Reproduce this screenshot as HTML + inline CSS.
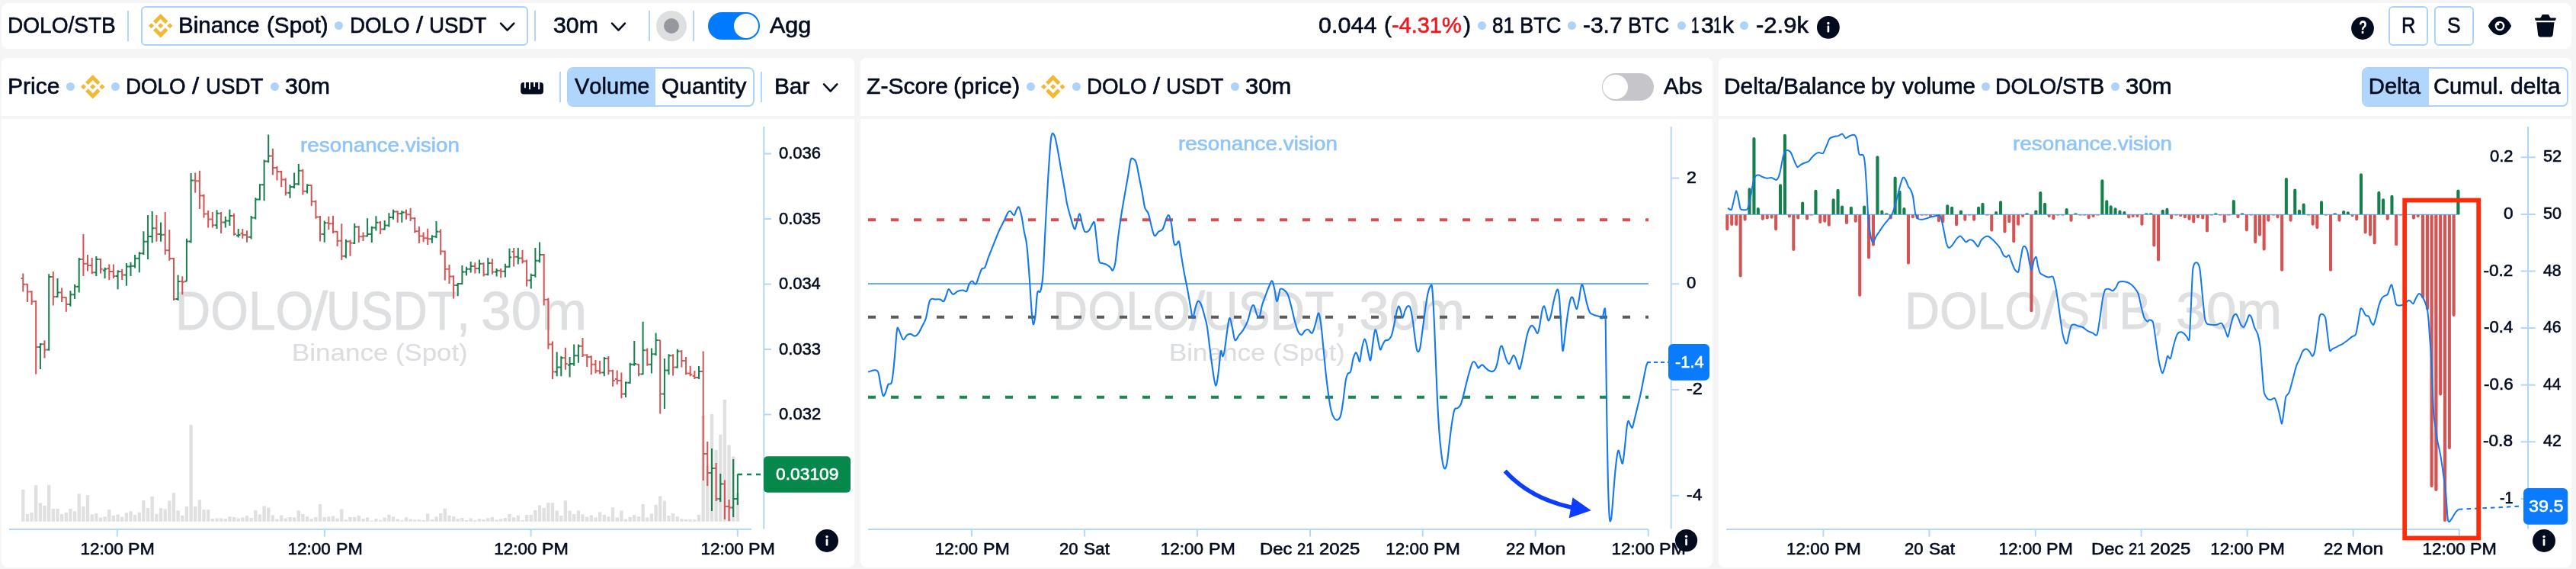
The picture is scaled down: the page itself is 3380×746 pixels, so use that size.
<!DOCTYPE html><html lang="en"><head><meta charset="utf-8"><title>DOLO/STB</title><style>
*{box-sizing:border-box;margin:0;padding:0}
html,body{width:3380px;height:746px;overflow:hidden}
body{background:#f5f5f5;font-family:"Liberation Sans",sans-serif;position:relative;font-kerning:none;color:#030b1f}
#root{position:absolute;left:0;top:0;width:3380px;height:746px;will-change:transform}
.t{position:absolute;white-space:pre;display:block;transform-origin:0 0}
.ab{position:absolute;display:block;overflow:visible}
.box{position:absolute;background:#fff}
.dot{position:absolute;display:block;border-radius:50%;background:#add3fb}
.vd{position:absolute;display:block;width:2px;background:#b3d7fb}
.ob{position:absolute;border:2px solid #add3fb;border-radius:6px;background:#fff}
.seg{position:absolute;border:2px solid #add3fb;border-radius:8px;background:#fff;overflow:hidden}
.seg b{position:absolute;left:-2px;top:-2px;bottom:-2px;background:#b1d6fd;display:block}
</style></head><body><div id="root">
<div class="box" style="left:2px;top:4px;width:3372px;height:60px;border-radius:9px"></div>
<span class="t" style="left:9.60px;top:18.98px;font-size:29.2px;line-height:29.2px;color:#030b1f;transform:scaleX(0.9609);-webkit-text-stroke:0.6px #030b1f;">DOLO/STB</span>
<i class="vd" style="left:167.0px;top:14px;height:40px"></i>
<div class="ob" style="left:185px;top:8px;width:508px;height:52px"></div>
<svg class="ab" style="left:195.2px;top:18.2px" width="31.5" height="31.5" viewBox="0 0 126.61 126.61"><path fill="#f1b932" d="M38.73 53.2l24.59-24.58 24.6 24.6 14.3-14.31L63.32 0l-38.9 38.9zM0 63.31l14.3-14.31 14.31 14.31-14.31 14.3zM38.73 73.41l24.59 24.59 24.6-24.6 14.31 14.29-38.9 38.91-38.91-38.88zM98 63.31l14.3-14.31 14.31 14.3-14.31 14.32zM77.83 63.3L63.32 48.78 52.59 59.51l-1.24 1.23-2.54 2.54 14.51 14.5 14.51-14.47z"/></svg>
<span class="t" style="left:234.38px;top:18.98px;font-size:29.2px;line-height:29.2px;color:#030b1f;transform:scaleX(1.0105);-webkit-text-stroke:0.6px #030b1f;">Binance</span><span class="t" style="left:350.36px;top:18.98px;font-size:29.2px;line-height:29.2px;color:#030b1f;transform:scaleX(1.0159);-webkit-text-stroke:0.6px #030b1f;">(Spot)</span>
<i class="dot" style="left:439.2px;top:28.1px;width:11.0px;height:11.0px"></i>
<span class="t" style="left:458.82px;top:18.98px;font-size:29.2px;line-height:29.2px;color:#030b1f;transform:scaleX(0.9499);-webkit-text-stroke:0.6px #030b1f;">DOLO</span><span class="t" style="left:545.70px;top:18.98px;font-size:29.2px;line-height:29.2px;color:#030b1f;transform:scaleX(1.1217);-webkit-text-stroke:0.6px #030b1f;">/</span><span class="t" style="left:563.36px;top:18.98px;font-size:29.2px;line-height:29.2px;color:#030b1f;transform:scaleX(0.9508);-webkit-text-stroke:0.6px #030b1f;">USDT</span>
<svg class="ab" style="left:0;top:0" width="3380" height="160"><path d="M657.0 30.6L665.6 39.6L674.3 30.6" fill="none" stroke="#030b1f" stroke-width="2.6" stroke-linecap="round" stroke-linejoin="round"/></svg>
<i class="vd" style="left:701.0px;top:14px;height:40px"></i>
<span class="t" style="left:725.75px;top:18.98px;font-size:29.2px;line-height:29.2px;color:#030b1f;transform:scaleX(1.0360);-webkit-text-stroke:0.6px #030b1f;">30m</span>
<svg class="ab" style="left:0;top:0" width="3380" height="160"><path d="M803.0 30.6L811.5 39.6L820.0 30.6" fill="none" stroke="#030b1f" stroke-width="2.6" stroke-linecap="round" stroke-linejoin="round"/></svg>
<i class="vd" style="left:851.0px;top:14px;height:40px"></i>
<i class="ab" style="left:860.8px;top:13.8px;width:40px;height:40px;border-radius:50%;background:#dedfe1"></i>
<i class="ab" style="left:870.8px;top:23.8px;width:20px;height:20px;border-radius:50%;background:#97989d"></i>
<i class="vd" style="left:909.0px;top:14px;height:40px"></i>
<i class="ab" style="left:929px;top:15.8px;width:67.5px;height:36px;border-radius:18px;background:#007aff"></i>
<i class="ab" style="left:962.6px;top:17.6px;width:32.4px;height:32.4px;border-radius:50%;background:#fff"></i>
<span class="t" style="left:1009.64px;top:18.98px;font-size:29.2px;line-height:29.2px;color:#030b1f;transform:scaleX(1.0457);-webkit-text-stroke:0.6px #030b1f;">Agg</span>
<span class="t" style="left:1729.81px;top:18.98px;font-size:29.2px;line-height:29.2px;color:#030b1f;transform:scaleX(1.0454);-webkit-text-stroke:0.6px #030b1f;">0.044</span><span class="t" style="left:1815.53px;top:18.98px;font-size:29.2px;line-height:29.2px;color:#030b1f;transform:scaleX(1.0333);-webkit-text-stroke:0.6px #030b1f;">(</span>
<span class="t" style="left:1826.22px;top:18.31px;font-size:30px;line-height:30px;color:#f5161d;transform:scaleX(0.9638);-webkit-text-stroke:0.6px #f5161d;">-4.31%</span>
<span class="t" style="left:1919.62px;top:18.98px;font-size:29.2px;line-height:29.2px;color:#030b1f;transform:scaleX(1.0333);-webkit-text-stroke:0.6px #030b1f;">)</span>
<i class="dot" style="left:1938.5px;top:28.1px;width:11.0px;height:11.0px"></i>
<span class="t" style="left:1957.87px;top:18.98px;font-size:29.2px;line-height:29.2px;color:#030b1f;transform:scaleX(0.8931);-webkit-text-stroke:0.6px #030b1f;">81</span><span class="t" style="left:1993.66px;top:18.98px;font-size:29.2px;line-height:29.2px;color:#030b1f;transform:scaleX(0.9346);-webkit-text-stroke:0.6px #030b1f;">BTC</span>
<i class="dot" style="left:2057.4px;top:28.1px;width:11.0px;height:11.0px"></i>
<span class="t" style="left:2077.17px;top:18.98px;font-size:29.2px;line-height:29.2px;color:#030b1f;transform:scaleX(1.0242);-webkit-text-stroke:0.6px #030b1f;">-3.7</span><span class="t" style="left:2136.47px;top:18.98px;font-size:29.2px;line-height:29.2px;color:#030b1f;transform:scaleX(0.9291);-webkit-text-stroke:0.6px #030b1f;">BTC</span>
<i class="dot" style="left:2200.5px;top:27.9px;width:11.0px;height:11.0px"></i>
<span class="t" style="left:2219.15px;top:18.98px;font-size:29.2px;line-height:29.2px;color:#030b1f;transform:scaleX(0.6513);-webkit-text-stroke:0.6px #030b1f;">1</span><span class="t" style="left:2231.55px;top:18.98px;font-size:29.2px;line-height:29.2px;color:#030b1f;transform:scaleX(1.0329);-webkit-text-stroke:0.6px #030b1f;">3</span><span class="t" style="left:2247.72px;top:18.98px;font-size:29.2px;line-height:29.2px;color:#030b1f;transform:scaleX(0.6672);-webkit-text-stroke:0.6px #030b1f;">1</span><span class="t" style="left:2259.97px;top:18.98px;font-size:29.2px;line-height:29.2px;color:#030b1f;transform:scaleX(1.0335);-webkit-text-stroke:0.6px #030b1f;">k</span>
<i class="dot" style="left:2283.4px;top:28.1px;width:11.0px;height:11.0px"></i>
<span class="t" style="left:2303.62px;top:18.98px;font-size:29.2px;line-height:29.2px;color:#030b1f;transform:scaleX(1.0634);-webkit-text-stroke:0.6px #030b1f;">-2.9k</span>
<svg class="ab" style="left:2383.1px;top:20.0px" width="31.8" height="31.8" viewBox="-15.9 -15.9 31.8 31.8"><circle r="14.9" fill="#030b1f"/><circle cx="0" cy="-5.4" r="1.7" fill="#fff"/><rect x="-1.35" y="-2.4" width="2.7" height="9" rx="1.2" fill="#fff"/></svg>
<svg class="ab" style="left:3084px;top:21px" width="32" height="32" viewBox="-16 -16 32 32"><circle r="14.9" fill="#030b1f"/></svg>
<span class="t" style="left:3094.59px;top:25.31px;font-size:23.5px;line-height:23.5px;color:#fff;transform:scaleX(0.7549);font-weight:700;">?</span>
<div class="ob" style="left:3134px;top:8px;width:52px;height:52px"></div>
<span class="t" style="left:3151.11px;top:18.68px;font-size:29.2px;line-height:29.2px;color:#030b1f;transform:scaleX(0.8709);-webkit-text-stroke:0.6px #030b1f;">R</span>
<div class="ob" style="left:3194px;top:8px;width:52px;height:52px"></div>
<span class="t" style="left:3211.30px;top:18.68px;font-size:29.2px;line-height:29.2px;color:#030b1f;transform:scaleX(0.9042);-webkit-text-stroke:0.6px #030b1f;">S</span>
<svg class="ab" style="left:3262px;top:18px" width="36" height="32" viewBox="-18 -16 36 32"><path fill="#030b1f" d="M-15.2 0C-11.5-7.6-6.2-12.2 0-12.2S11.5-7.6 15.2 0C11.5 7.6 6.2 12.2 0 12.2S-11.5 7.6-15.2 0Z"/><circle r="6.3" fill="#fff"/><circle r="3.9" fill="#030b1f"/><circle cx="-2.4" cy="-2.5" r="1.9" fill="#fff"/></svg>
<svg class="ab" style="left:3322px;top:14px" width="36" height="40" viewBox="3322 14 36 40"><path fill="#030b1f" d="M3326.8 23.4H3332.6C3333.4 23.4 3333.9 22.9 3334.2 22.2L3335 20.4C3335.4 19.5 3336.1 19 3337 19H3342.8C3343.7 19 3344.4 19.5 3344.8 20.4L3345.6 22.2C3345.9 22.9 3346.4 23.4 3347.2 23.4H3353C3353.8 23.4 3354 24 3353.8 24.6L3353.2 26.2C3353 26.7 3352.6 27 3352 27H3327.8C3327.2 27 3326.8 26.7 3326.6 26.2L3326 24.6C3325.8 24 3326 23.4 3326.8 23.4ZM3328.3 29.2H3351.5L3349.7 45.6C3349.5 47.4 3348.2 48.6 3346.4 48.6H3333.4C3331.6 48.6 3330.3 47.4 3330.1 45.6Z"/></svg>
<div class="box" style="left:2px;top:76px;width:1119px;height:76px;border-radius:8px 8px 0 0"></div>
<div class="box" style="left:2px;top:156px;width:1119px;height:587.8px;border-radius:0 0 8px 8px"></div>
<div class="box" style="left:1129px;top:76px;width:1118px;height:76px;border-radius:8px 8px 0 0"></div>
<div class="box" style="left:1129px;top:156px;width:1118px;height:587.8px;border-radius:0 0 8px 8px"></div>
<div class="box" style="left:2255px;top:76px;width:1119px;height:76px;border-radius:8px 8px 0 0"></div>
<div class="box" style="left:2255px;top:156px;width:1119px;height:587.8px;border-radius:0 0 8px 8px"></div>
<span class="t" style="left:9.73px;top:98.98px;font-size:29.2px;line-height:29.2px;color:#030b1f;transform:scaleX(1.0297);-webkit-text-stroke:0.6px #030b1f;">Price</span>
<i class="dot" style="left:86.5px;top:108.1px;width:11.0px;height:11.0px"></i>
<svg class="ab" style="left:106.2px;top:98.0px" width="31.5" height="31.5" viewBox="0 0 126.61 126.61"><path fill="#f1b932" d="M38.73 53.2l24.59-24.58 24.6 24.6 14.3-14.31L63.32 0l-38.9 38.9zM0 63.31l14.3-14.31 14.31 14.31-14.31 14.3zM38.73 73.41l24.59 24.59 24.6-24.6 14.31 14.29-38.9 38.91-38.91-38.88zM98 63.31l14.3-14.31 14.31 14.3-14.31 14.32zM77.83 63.3L63.32 48.78 52.59 59.51l-1.24 1.23-2.54 2.54 14.51 14.5 14.51-14.47z"/></svg>
<i class="dot" style="left:146.3px;top:108.1px;width:11.0px;height:11.0px"></i>
<span class="t" style="left:165.32px;top:98.98px;font-size:29.2px;line-height:29.2px;color:#030b1f;transform:scaleX(0.9499);-webkit-text-stroke:0.6px #030b1f;">DOLO</span><span class="t" style="left:252.20px;top:98.98px;font-size:29.2px;line-height:29.2px;color:#030b1f;transform:scaleX(1.1217);-webkit-text-stroke:0.6px #030b1f;">/</span><span class="t" style="left:269.86px;top:98.98px;font-size:29.2px;line-height:29.2px;color:#030b1f;transform:scaleX(0.9508);-webkit-text-stroke:0.6px #030b1f;">USDT</span>
<i class="dot" style="left:354.5px;top:108.1px;width:11.0px;height:11.0px"></i>
<span class="t" style="left:374.05px;top:98.98px;font-size:29.2px;line-height:29.2px;color:#030b1f;transform:scaleX(1.0378);-webkit-text-stroke:0.6px #030b1f;">30m</span>
<svg class="ab" style="left:680px;top:104px" width="36" height="24" viewBox="680 104 36 24"><rect x="683.2" y="108" width="29.8" height="15.5" rx="4" fill="#030b1f"/><rect x="687.9" y="107" width="2" height="8.3" fill="#fff"/><rect x="694" y="107" width="2" height="10.2" fill="#fff"/><rect x="700.1" y="107" width="2" height="6.8" fill="#fff"/><rect x="706.2" y="107" width="2" height="10.2" fill="#fff"/></svg>
<i class="vd" style="left:734.0px;top:94px;height:39.5px"></i>
<div class="seg" style="left:744px;top:88px;width:245.5px;height:51.5px"><b style="width:115.8px"></b></div>
<span class="t" style="left:754.37px;top:98.98px;font-size:29.2px;line-height:29.2px;color:#030b1f;transform:scaleX(0.9951);-webkit-text-stroke:0.6px #030b1f;">Volume</span>
<span class="t" style="left:867.88px;top:98.98px;font-size:29.2px;line-height:29.2px;color:#030b1f;transform:scaleX(1.0242);-webkit-text-stroke:0.6px #030b1f;">Quantity</span>
<i class="vd" style="left:998.0px;top:94px;height:39.5px"></i>
<span class="t" style="left:1016.16px;top:98.98px;font-size:29.2px;line-height:29.2px;color:#030b1f;transform:scaleX(1.0197);-webkit-text-stroke:0.6px #030b1f;">Bar</span>
<svg class="ab" style="left:0;top:0" width="3380" height="160"><path d="M1081.0 110.4L1089.7 119.6L1098.3 110.4" fill="none" stroke="#030b1f" stroke-width="2.6" stroke-linecap="round" stroke-linejoin="round"/></svg>
<span class="t" style="left:1136.54px;top:98.98px;font-size:29.2px;line-height:29.2px;color:#030b1f;transform:scaleX(1.0313);-webkit-text-stroke:0.6px #030b1f;">Z-Score</span><span class="t" style="left:1251.29px;top:98.98px;font-size:29.2px;line-height:29.2px;color:#030b1f;transform:scaleX(1.0541);-webkit-text-stroke:0.6px #030b1f;">(price)</span>
<i class="dot" style="left:1346.5px;top:108.1px;width:11.0px;height:11.0px"></i>
<svg class="ab" style="left:1366.2px;top:98.0px" width="31.5" height="31.5" viewBox="0 0 126.61 126.61"><path fill="#f1b932" d="M38.73 53.2l24.59-24.58 24.6 24.6 14.3-14.31L63.32 0l-38.9 38.9zM0 63.31l14.3-14.31 14.31 14.31-14.31 14.3zM38.73 73.41l24.59 24.59 24.6-24.6 14.31 14.29-38.9 38.91-38.91-38.88zM98 63.31l14.3-14.31 14.31 14.3-14.31 14.32zM77.83 63.3L63.32 48.78 52.59 59.51l-1.24 1.23-2.54 2.54 14.51 14.5 14.51-14.47z"/></svg>
<i class="dot" style="left:1406.5px;top:108.1px;width:11.0px;height:11.0px"></i>
<span class="t" style="left:1425.72px;top:98.98px;font-size:29.2px;line-height:29.2px;color:#030b1f;transform:scaleX(0.9499);-webkit-text-stroke:0.6px #030b1f;">DOLO</span><span class="t" style="left:1512.60px;top:98.98px;font-size:29.2px;line-height:29.2px;color:#030b1f;transform:scaleX(1.1217);-webkit-text-stroke:0.6px #030b1f;">/</span><span class="t" style="left:1530.26px;top:98.98px;font-size:29.2px;line-height:29.2px;color:#030b1f;transform:scaleX(0.9508);-webkit-text-stroke:0.6px #030b1f;">USDT</span>
<i class="dot" style="left:1614.5px;top:108.1px;width:11.0px;height:11.0px"></i>
<span class="t" style="left:1634.32px;top:98.98px;font-size:29.2px;line-height:29.2px;color:#030b1f;transform:scaleX(1.0620);-webkit-text-stroke:0.6px #030b1f;">30m</span>
<i class="ab" style="left:2102px;top:96px;width:68px;height:36px;border-radius:18px;background:#c6c6ca"></i>
<i class="ab" style="left:2103.4px;top:97.8px;width:32.4px;height:32.4px;border-radius:50%;background:#fff"></i>
<span class="t" style="left:2182.74px;top:98.98px;font-size:29.2px;line-height:29.2px;color:#030b1f;transform:scaleX(1.0081);-webkit-text-stroke:0.6px #030b1f;">Abs</span>
<span class="t" style="left:2261.85px;top:98.98px;font-size:29.2px;line-height:29.2px;color:#030b1f;transform:scaleX(1.0241);-webkit-text-stroke:0.6px #030b1f;">Delta/Balance</span><span class="t" style="left:2454.78px;top:98.98px;font-size:29.2px;line-height:29.2px;color:#030b1f;transform:scaleX(1.0207);-webkit-text-stroke:0.6px #030b1f;">by</span><span class="t" style="left:2496.20px;top:98.98px;font-size:29.2px;line-height:29.2px;color:#030b1f;transform:scaleX(1.0212);-webkit-text-stroke:0.6px #030b1f;">volume</span>
<i class="dot" style="left:2600.3px;top:108.1px;width:11.0px;height:11.0px"></i>
<span class="t" style="left:2618.28px;top:98.98px;font-size:29.2px;line-height:29.2px;color:#030b1f;transform:scaleX(0.9693);-webkit-text-stroke:0.6px #030b1f;">DOLO/STB</span>
<i class="dot" style="left:2769.5px;top:108.1px;width:11.0px;height:11.0px"></i>
<span class="t" style="left:2789.01px;top:98.98px;font-size:29.2px;line-height:29.2px;color:#030b1f;transform:scaleX(1.0694);-webkit-text-stroke:0.6px #030b1f;">30m</span>
<div class="seg" style="left:3099px;top:88px;width:271px;height:51.5px"><b style="width:88px"></b></div>
<span class="t" style="left:3107.80px;top:98.98px;font-size:29.2px;line-height:29.2px;color:#030b1f;-webkit-text-stroke:0.6px #030b1f;">Delta</span>
<span class="t" style="left:3192.92px;top:98.98px;font-size:29.2px;line-height:29.2px;color:#030b1f;-webkit-text-stroke:0.6px #030b1f;">Cumul.</span><span class="t" style="left:3293.63px;top:98.98px;font-size:29.2px;line-height:29.2px;color:#030b1f;transform:scaleX(1.0339);-webkit-text-stroke:0.6px #030b1f;">delta</span>
<span class="t" style="left:394.35px;top:177.07px;font-size:26.5px;line-height:26.5px;color:#8ec4fa;transform:scaleX(1.0507);-webkit-text-stroke:0.6px #8ec4fa;">resonance.vision</span>
<span class="t" style="left:1546.20px;top:174.87px;font-size:26.5px;line-height:26.5px;color:#8ec4fa;transform:scaleX(1.0507);-webkit-text-stroke:0.6px #8ec4fa;">resonance.vision</span>
<span class="t" style="left:2641.20px;top:174.87px;font-size:26.5px;line-height:26.5px;color:#8ec4fa;transform:scaleX(1.0507);-webkit-text-stroke:0.6px #8ec4fa;">resonance.vision</span>
<span class="t" style="left:229.75px;top:373.87px;font-size:69.5px;line-height:69.5px;color:#dedfe1;transform:scaleX(0.9205);-webkit-text-stroke:0.8px #dedfe1;">DOLO</span><span class="t" style="left:408.70px;top:373.87px;font-size:69.5px;line-height:69.5px;color:#dedfe1;transform:scaleX(1.0927);-webkit-text-stroke:0.8px #dedfe1;">/</span><span class="t" style="left:428.14px;top:373.87px;font-size:69.5px;line-height:69.5px;color:#dedfe1;transform:scaleX(0.9056);-webkit-text-stroke:0.8px #dedfe1;">USDT,</span><span class="t" style="left:631.38px;top:373.87px;font-size:69.5px;line-height:69.5px;color:#dedfe1;transform:scaleX(1.0284);-webkit-text-stroke:0.8px #dedfe1;">30m</span>
<span class="t" style="left:383.03px;top:447.04px;font-size:31.5px;line-height:31.5px;color:#dcdde0;transform:scaleX(1.1097);-webkit-text-stroke:0.2px #dcdde0;">Binance</span><span class="t" style="left:519.25px;top:447.04px;font-size:31.5px;line-height:31.5px;color:#dcdde0;transform:scaleX(1.1029);-webkit-text-stroke:0.2px #dcdde0;">(Spot)</span>
<span class="t" style="left:1380.95px;top:373.87px;font-size:69.5px;line-height:69.5px;color:#dedfe1;transform:scaleX(0.9205);-webkit-text-stroke:0.8px #dedfe1;">DOLO</span><span class="t" style="left:1559.90px;top:373.87px;font-size:69.5px;line-height:69.5px;color:#dedfe1;transform:scaleX(1.0927);-webkit-text-stroke:0.8px #dedfe1;">/</span><span class="t" style="left:1579.34px;top:373.87px;font-size:69.5px;line-height:69.5px;color:#dedfe1;transform:scaleX(0.9056);-webkit-text-stroke:0.8px #dedfe1;">USDT,</span><span class="t" style="left:1782.58px;top:373.87px;font-size:69.5px;line-height:69.5px;color:#dedfe1;transform:scaleX(1.0284);-webkit-text-stroke:0.8px #dedfe1;">30m</span>
<span class="t" style="left:1534.23px;top:447.04px;font-size:31.5px;line-height:31.5px;color:#dcdde0;transform:scaleX(1.1097);-webkit-text-stroke:0.2px #dcdde0;">Binance</span><span class="t" style="left:1670.45px;top:447.04px;font-size:31.5px;line-height:31.5px;color:#dcdde0;transform:scaleX(1.1029);-webkit-text-stroke:0.2px #dcdde0;">(Spot)</span>
<span class="t" style="left:2499.16px;top:373.09px;font-size:69px;line-height:69px;color:#dedfe1;transform:scaleX(0.9256);-webkit-text-stroke:0.8px #dedfe1;">DOLO</span><span class="t" style="left:2678.00px;top:373.09px;font-size:69px;line-height:69px;color:#dedfe1;transform:scaleX(1.1424);-webkit-text-stroke:0.8px #dedfe1;">/</span><span class="t" style="left:2699.93px;top:373.09px;font-size:69px;line-height:69px;color:#dedfe1;transform:scaleX(0.9144);-webkit-text-stroke:0.8px #dedfe1;">STB,</span><span class="t" style="left:2854.58px;top:373.09px;font-size:69px;line-height:69px;color:#dedfe1;transform:scaleX(1.0358);-webkit-text-stroke:0.8px #dedfe1;">30m</span>
<svg class="ab" style="left:0;top:0" width="3380" height="746" viewBox="0 0 3380 746"><path d="M28.1 683.8v-41.8h4.4v41.8zM33.7 683.8v-9.8h4.4v9.8zM39.4 683.8v-11.8h4.4v11.8zM45.0 683.8v-47.5h4.4v47.5zM50.7 683.8v-24.6h4.4v24.6zM56.3 683.8v-20.7h4.4v20.7zM62.0 683.8v-48.0h4.4v48.0zM67.6 683.8v-16.7h4.4v16.7zM73.3 683.8v-16.7h4.4v16.7zM78.9 683.8v-9.8h4.4v9.8zM84.6 683.8v-11.8h4.4v11.8zM90.2 683.8v-16.7h4.4v16.7zM95.9 683.8v-13.5h4.4v13.5zM101.5 683.8v-36.2h4.4v36.2zM107.2 683.8v-19.7h4.4v19.7zM112.8 683.8v-34.7h4.4v34.7zM118.5 683.8v-9.6h4.4v9.6zM124.1 683.8v-10.8h4.4v10.8zM129.8 683.8v-5.4h4.4v5.4zM135.4 683.8v-6.4h4.4v6.4zM141.1 683.8v-15.5h4.4v15.5zM146.7 683.8v-8.1h4.4v8.1zM152.4 683.8v-9.4h4.4v9.4zM158.0 683.8v-6.4h4.4v6.4zM163.7 683.8v-11.6h4.4v11.6zM169.3 683.8v-13.5h4.4v13.5zM174.9 683.8v-8.9h4.4v8.9zM180.6 683.8v-12.1h4.4v12.1zM186.2 683.8v-27.8h4.4v27.8zM191.9 683.8v-17.7h4.4v17.7zM197.5 683.8v-32.7h4.4v32.7zM203.2 683.8v-10.1h4.4v10.1zM208.8 683.8v-17.5h4.4v17.5zM214.5 683.8v-16.2h4.4v16.2zM220.1 683.8v-27.3h4.4v27.3zM225.8 683.8v-37.6h4.4v37.6zM231.4 683.8v-14.3h4.4v14.3zM237.1 683.8v-8.1h4.4v8.1zM242.7 683.8v-19.7h4.4v19.7zM248.4 683.8v-126.7h4.4v126.7zM254.0 683.8v-19.7h4.4v19.7zM259.7 683.8v-28.5h4.4v28.5zM265.3 683.8v-15.5h4.4v15.5zM271.0 683.8v-15.5h4.4v15.5zM276.6 683.8v-3.7h4.4v3.7zM282.3 683.8v-4.4h4.4v4.4zM287.9 683.8v-4.2h4.4v4.2zM293.6 683.8v-3.7h4.4v3.7zM299.2 683.8v-6.6h4.4v6.6zM304.9 683.8v-5.7h4.4v5.7zM310.5 683.8v-4.4h4.4v4.4zM316.1 683.8v-5.2h4.4v5.2zM321.8 683.8v-7.6h4.4v7.6zM327.4 683.8v-4.7h4.4v4.7zM333.1 683.8v-14.8h4.4v14.8zM338.7 683.8v-9.4h4.4v9.4zM344.4 683.8v-20.4h4.4v20.4zM350.0 683.8v-18.2h4.4v18.2zM355.7 683.8v-8.4h4.4v8.4zM361.3 683.8v-3.2h4.4v3.2zM367.0 683.8v-8.4h4.4v8.4zM372.6 683.8v-4.4h4.4v4.4zM378.3 683.8v-5.7h4.4v5.7zM383.9 683.8v-5.2h4.4v5.2zM389.6 683.8v-14.3h4.4v14.3zM395.2 683.8v-9.8h4.4v9.8zM400.9 683.8v-6.6h4.4v6.6zM406.5 683.8v-3.7h4.4v3.7zM412.2 683.8v-5.7h4.4v5.7zM417.8 683.8v-22.9h4.4v22.9zM423.5 683.8v-5.7h4.4v5.7zM429.1 683.8v-6.6h4.4v6.6zM434.8 683.8v-7.4h4.4v7.4zM440.4 683.8v-4.4h4.4v4.4zM446.1 683.8v-16.2h4.4v16.2zM451.7 683.8v-2.5h4.4v2.5zM457.3 683.8v-5.7h4.4v5.7zM463.0 683.8v-5.7h4.4v5.7zM468.6 683.8v-8.1h4.4v8.1zM474.3 683.8v-3.7h4.4v3.7zM479.9 683.8v-5.2h4.4v5.2zM485.6 683.8v-1.2h4.4v1.2zM491.2 683.8v-3.7h4.4v3.7zM496.9 683.8v-2.0h4.4v2.0zM502.5 683.8v-5.2h4.4v5.2zM508.2 683.8v-9.1h4.4v9.1zM513.8 683.8v-6.2h4.4v6.2zM519.5 683.8v-3.3h4.4v3.3zM525.1 683.8v-1.7h4.4v1.7zM530.8 683.8v-5.6h4.4v5.6zM536.4 683.8v-3.3h4.4v3.3zM542.1 683.8v-2.5h4.4v2.5zM547.7 683.8v-2.9h4.4v2.9zM553.4 683.8v-1.7h4.4v1.7zM559.0 683.8v-10.3h4.4v10.3zM564.7 683.8v-2.9h4.4v2.9zM570.3 683.8v-6.4h4.4v6.4zM576.0 683.8v-10.7h4.4v10.7zM581.6 683.8v-17.1h4.4v17.1zM587.3 683.8v-8.0h4.4v8.0zM592.9 683.8v-6.8h4.4v6.8zM598.5 683.8v-3.9h4.4v3.9zM604.2 683.8v-4.7h4.4v4.7zM609.8 683.8v-1.9h4.4v1.9zM615.5 683.8v-4.3h4.4v4.3zM621.1 683.8v-1.7h4.4v1.7zM626.8 683.8v-3.5h4.4v3.5zM632.4 683.8v-2.9h4.4v2.9zM638.1 683.8v-4.5h4.4v4.5zM643.7 683.8v-5.8h4.4v5.8zM649.4 683.8v-2.3h4.4v2.3zM655.0 683.8v-3.5h4.4v3.5zM660.7 683.8v-4.9h4.4v4.9zM666.3 683.8v-9.7h4.4v9.7zM672.0 683.8v-5.6h4.4v5.6zM677.6 683.8v-8.0h4.4v8.0zM683.3 683.8v-1.7h4.4v1.7zM688.9 683.8v-8.7h4.4v8.7zM694.6 683.8v-8.7h4.4v8.7zM700.2 683.8v-14.9h4.4v14.9zM705.9 683.8v-21.4h4.4v21.4zM711.5 683.8v-17.7h4.4v17.7zM717.2 683.8v-24.5h4.4v24.5zM722.8 683.8v-24.3h4.4v24.3zM728.5 683.8v-14.4h4.4v14.4zM734.1 683.8v-7.8h4.4v7.8zM739.7 683.8v-27.6h4.4v27.6zM745.4 683.8v-14.4h4.4v14.4zM751.0 683.8v-9.9h4.4v9.9zM756.7 683.8v-14.4h4.4v14.4zM762.3 683.8v-9.5h4.4v9.5zM768.0 683.8v-6.4h4.4v6.4zM773.6 683.8v-8.3h4.4v8.3zM779.3 683.8v-5.6h4.4v5.6zM784.9 683.8v-12.2h4.4v12.2zM790.6 683.8v-8.7h4.4v8.7zM796.2 683.8v-6.6h4.4v6.6zM801.9 683.8v-18.6h4.4v18.6zM807.5 683.8v-5.4h4.4v5.4zM813.2 683.8v-14.4h4.4v14.4zM818.8 683.8v-3.3h4.4v3.3zM824.5 683.8v-5.8h4.4v5.8zM830.1 683.8v-8.5h4.4v8.5zM835.8 683.8v-6.6h4.4v6.6zM841.4 683.8v-22.7h4.4v22.7zM847.1 683.8v-5.4h4.4v5.4zM852.7 683.8v-10.3h4.4v10.3zM858.4 683.8v-22.1h4.4v22.1zM864.0 683.8v-33.4h4.4v33.4zM869.7 683.8v-27.4h4.4v27.4zM875.3 683.8v-7.8h4.4v7.8zM880.9 683.8v-10.9h4.4v10.9zM886.6 683.8v-6.6h4.4v6.6zM892.2 683.8v-3.5h4.4v3.5zM897.9 683.8v-2.7h4.4v2.7zM903.5 683.8v-2.7h4.4v2.7zM909.2 683.8v-2.7h4.4v2.7zM914.8 683.8v-8.7h4.4v8.7zM920.5 683.8v-138.8h4.4v138.8zM926.1 683.8v-72.8h4.4v72.8zM931.8 683.8v-140.8h4.4v140.8zM937.4 683.8v-94.0h4.4v94.0zM943.1 683.8v-114.1h4.4v114.1zM948.7 683.8v-159.8h4.4v159.8zM954.4 683.8v-100.3h4.4v100.3zM960.0 683.8v-85.2h4.4v85.2zM965.7 683.8v-37.8h4.4v37.8z" fill="#e0e0e0"/><path d="M12 694H986M1002.3 166V693.5" stroke="#b3d7fb" stroke-width="2" fill="none"/><path d="M153.8 694V703.6M425.9 694V703.6M696.6 694V703.6M967.8 694V703.6M1002 201.6H1012M1002 287.1H1012M1002 372.6H1012M1002 458.1H1012M1002 543.6H1012" stroke="#b3d7fb" stroke-width="2" fill="none"/><path d="M30.3 358.5V382.4M27.6 365.0H30.3M30.3 372.8H33.0M35.9 372.0V395.9M33.2 372.8H35.9M35.9 382.4H38.6M41.6 381.3V399.8M38.9 382.4H41.6M41.6 395.2H44.3M47.2 394.0V490.6M44.5 395.2H47.2M47.2 455.1H49.9M58.5 446.2V469.4M55.8 451.2H58.5M58.5 458.6H61.2M69.8 356.1V400.6M67.1 363.1H69.8M69.8 389.0H72.5M81.1 377.4V395.9M78.4 383.6H81.1M81.1 390.1H83.8M86.8 389.4V408.7M84.1 390.1H86.8M86.8 399.0H89.5M109.4 307.1V361.9M106.7 339.9H109.4M109.4 345.7H112.1M115.0 334.1V355.4M112.3 345.7H115.0M115.0 348.0H117.7M120.7 338.0V359.2M118.0 348.0H120.7M120.7 357.3H123.4M132.0 339.1V358.5M129.3 339.9H132.0M132.0 352.7H134.7M143.3 346.5V367.3M140.6 351.9H143.3M143.3 356.1H146.0M148.9 346.5V365.0M146.2 356.1H148.9M148.9 361.9H151.6M160.2 352.7V367.0M157.5 356.1H160.2M160.2 360.4H162.9M205.4 281.9V316.7M202.7 299.3H205.4M205.4 307.1H208.1M216.7 278.1V334.1M214.0 307.8H216.7M216.7 328.3H219.4M222.3 301.3V341.8M219.6 328.3H222.3M222.3 339.1H225.0M228.0 338.0V394.0M225.3 339.1H228.0M228.0 392.1H230.7M239.3 362.3V386.3M236.6 368.9H239.3M239.3 369.7H242.0M256.2 226.5V252.8M253.5 236.5H256.2M256.2 237.3H258.9M261.9 223.8V274.0M259.2 237.3H261.9M261.9 256.6H264.6M267.5 254.7V285.6M264.8 256.6H267.5M267.5 280.6H270.2M273.2 275.9V298.4M270.5 280.6H273.2M273.2 287.5H275.9M278.8 277.9V298.4M276.1 287.5H278.8M278.8 295.3H281.5M290.1 277.9V306.1M287.4 279.8H290.1M290.1 291.4H292.8M307.1 279.8V308.8M304.4 282.9H307.1M307.1 306.9H309.8M318.3 299.9V312.7M315.6 306.1H318.3M318.3 308.0H321.0M324.0 302.2V317.7M321.3 308.0H324.0M324.0 310.7H326.7M357.9 194.8V229.6M355.2 204.4H357.9M357.9 219.9H360.6M363.5 218.0V236.5M360.8 219.9H363.5M363.5 224.9H366.2M369.2 223.8V245.0M366.5 224.9H369.2M369.2 235.4H371.9M374.8 233.4V256.6M372.1 235.4H374.8M374.8 252.8H377.5M397.4 221.8V255.5M394.7 223.8H397.4M397.4 250.8H400.1M408.7 242.3V270.1M406.0 243.1H408.7M408.7 264.3H411.4M414.4 262.4V286.8M411.7 264.3H414.4M414.4 284.4H417.1M420.0 282.9V316.5M417.3 284.4H420.0M420.0 306.9H422.7M431.3 283.7V301.1M428.6 292.2H431.3M431.3 293.3H434.0M437.0 282.9V306.1M434.3 293.3H437.0M437.0 303.8H439.7M442.6 303.0V323.1M439.9 303.8H442.6M442.6 315.7H445.3M448.3 293.3V340.9M445.6 315.7H448.3M448.3 335.8H451.0M459.5 314.6V335.8M456.8 316.5H459.5M459.5 318.5H462.2M470.8 295.9V318.0M468.1 297.5H470.8M470.8 310.2H473.5M476.5 304.4V316.0M473.8 310.2H476.5M476.5 309.5H479.2M499.1 290.1V307.1M496.4 291.7H499.1M499.1 300.6H501.8M521.7 276.2V291.7M519.0 277.4H521.7M521.7 280.1H524.4M533.0 274.7V287.8M530.3 278.6H533.0M533.0 281.3H535.7M538.6 272.8V290.1M535.9 281.3H538.6M538.6 286.3H541.3M544.3 285.1V305.6M541.6 286.3H544.3M544.3 303.3H547.0M549.9 296.7V319.1M547.2 303.3H549.9M549.9 309.5H552.6M555.6 304.4V317.2M552.9 309.5H555.6M555.6 312.2H558.3M561.2 299.8V321.1M558.5 312.2H561.2M561.2 313.3H563.9M578.2 300.6V334.2M575.5 303.7H578.2M578.2 329.6H580.9M583.8 328.8V367.4M581.1 329.6H583.8M583.8 352.8H586.5M589.5 347.0V372.1M586.8 352.8H589.5M589.5 362.4H592.2M595.1 361.3V391.4M592.4 362.4H595.1M595.1 374.0H597.8M623.3 344.3V358.6M620.6 348.9H623.3M623.3 352.0H626.0M634.6 344.3V362.4M631.9 345.8H634.6M634.6 359.7H637.3M645.9 339.2V359.7M643.2 345.0H645.9M645.9 356.6H648.6M657.2 352.0V364.3M654.5 354.7H657.2M657.2 355.8H659.9M674.2 325.1V349.5M671.5 330.1H674.2M674.2 336.7H676.9M685.5 327.8V345.6M682.8 338.6H685.5M685.5 342.5H688.2M691.1 340.6V375.4M688.4 342.5H691.1M691.1 367.6H693.8M713.7 332.9V400.5M711.0 334.0H713.7M713.7 392.8H716.4M719.4 390.8V457.7M716.7 392.8H719.4M719.4 451.5H722.1M725.0 447.6V497.1M722.3 451.5H725.0M725.0 487.4H727.7M741.9 455.7V484.7M739.2 469.3H741.9M741.9 477.0H744.6M764.5 443.0V468.1M761.8 453.8H764.5M764.5 465.4H767.2M770.2 464.3V480.9M767.5 465.4H770.2M770.2 468.1H772.9M775.8 466.2V491.3M773.1 468.1H775.8M775.8 477.8H778.5M781.5 472.0V489.4M778.8 477.8H781.5M781.5 486.3H784.2M787.1 473.1V490.5M784.4 486.3H787.1M787.1 488.6H789.8M798.4 467.0V491.3M795.7 470.0H798.4M798.4 486.3H801.1M804.1 484.7V506.8M801.4 486.3H804.1M804.1 499.0H806.8M809.7 485.5V504.1M807.0 497.1H809.7M809.7 499.0H812.4M815.4 488.6V522.2M812.7 499.0H815.4M815.4 516.4H818.1M838.0 477.0V493.2M835.3 477.8H838.0M838.0 490.5H840.7M849.3 456.5V479.7M846.6 459.2H849.3M849.3 477.8H852.0M866.2 446.1V542.5M863.5 446.1H866.2M866.2 516.4H868.9M883.1 464.3V492.5M880.4 466.2H883.1M883.1 481.6H885.8M894.4 459.2V481.6M891.7 460.4H894.4M894.4 473.1H897.1M900.1 468.1V491.3M897.4 473.1H900.1M900.1 489.4H902.8M905.7 479.7V493.2M903.0 489.4H905.7M905.7 491.3H908.4M911.4 486.0V497.0M908.7 493.0H911.4M911.4 495.0H914.1M922.7 460.5V630.0M920.0 487.0H922.7M922.7 595.0H925.4M928.3 579.0V637.0M925.6 595.0H928.3M928.3 620.0H931.0M939.6 607.0V657.0M936.9 614.0H939.6M939.6 654.0H942.3M950.9 629.6V681.0M948.2 634.5H950.9M950.9 664.0H953.6M956.6 655.0V683.0M953.9 664.0H956.6M956.6 665.5H959.3" stroke="#d25555" stroke-width="2" fill="none"/><path d="M52.9 450.0V484.1M50.2 455.1H52.9M52.9 451.2H55.6M64.2 359.2V459.7M61.5 458.6H64.2M64.2 363.1H66.9M75.5 365.0V390.1M72.8 389.0H75.5M75.5 383.6H78.2M92.4 381.3V401.7M89.7 399.0H92.4M92.4 386.3H95.1M98.1 372.8V392.1M95.4 386.3H98.1M98.1 375.8H100.8M103.7 338.0V383.6M101.0 375.8H103.7M103.7 339.9H106.4M126.3 336.0V361.9M123.6 357.3H126.3M126.3 339.9H129.0M137.6 350.7V365.0M134.9 354.6H137.6M137.6 352.7H140.3M154.6 354.2V379.3M151.9 361.9H154.6M154.6 356.1H157.3M165.9 344.9V374.7M163.2 360.4H165.9M165.9 349.6H168.6M171.5 343.8V361.9M168.8 349.6H171.5M171.5 348.8H174.2M177.1 334.1V351.5M174.4 348.8H177.1M177.1 338.7H179.8M182.8 330.2V357.3M180.1 338.7H182.8M182.8 332.2H185.5M188.4 303.2V334.1M185.7 332.2H188.4M188.4 316.7H191.1M194.1 281.9V339.9M191.4 316.7H194.1M194.1 310.1H196.8M199.7 276.9V318.6M197.0 310.1H199.7M199.7 299.3H202.4M211.0 291.6V316.7M208.3 307.1H211.0M211.0 307.8H213.7M233.6 360.4V394.0M230.9 392.1H233.6M233.6 368.9H236.3M244.9 312.7V368.7M242.2 368.7H244.9M244.9 316.5H247.6M250.6 226.9V318.5M247.9 316.5H250.6M250.6 236.5H253.3M284.5 275.2V299.9M281.8 295.3H284.5M284.5 279.8H287.2M295.8 283.7V298.4M293.1 291.4H295.8M295.8 289.5H298.5M301.4 274.8V296.0M298.7 289.5H301.4M301.4 282.9H304.1M312.7 299.9V311.5M310.0 308.8H312.7M312.7 308.0H315.4M329.6 282.9V313.4M326.9 310.7H329.6M329.6 285.6H332.3M335.3 259.3V287.5M332.6 285.6H335.3M335.3 261.6H338.0M340.9 241.2V262.4M338.2 261.6H340.9M340.9 242.3H343.6M346.6 209.5V263.2M343.9 242.3H346.6M346.6 211.4H349.3M352.2 176.6V213.3M349.5 211.4H352.2M352.2 204.4H354.9M380.5 241.9V259.7M377.8 252.8H380.5M380.5 245.0H383.2M386.1 226.5V247.0M383.4 245.0H386.1M386.1 241.2H388.8M391.8 214.9V243.1M389.1 241.2H391.8M391.8 223.8H394.5M403.1 241.2V253.5M400.4 250.8H403.1M403.1 243.1H405.8M425.7 289.5V317.7M423.0 306.9H425.7M425.7 292.2H428.4M453.9 313.8V338.6M451.2 335.8H453.9M453.9 316.5H456.6M465.2 292.9V319.9M462.5 318.7H465.2M465.2 297.5H467.9M482.1 286.3V310.2M479.4 309.5H482.1M482.1 307.1H484.8M487.8 296.7V318.0M485.1 307.1H487.8M487.8 298.6H490.5M493.4 283.2V302.5M490.7 298.6H493.4M493.4 291.7H496.1M504.7 289.0V301.7M502.0 300.6H504.7M504.7 295.6H507.4M510.4 279.3V297.5M507.7 295.6H510.4M510.4 285.1H513.1M516.0 274.7V287.8M513.3 285.1H516.0M516.0 277.4H518.7M527.3 276.2V291.7M524.6 280.1H527.3M527.3 278.6H530.0M566.9 308.3V318.7M564.2 313.3H566.9M566.9 310.2H569.6M572.5 290.1V312.2M569.8 310.2H572.5M572.5 303.7H575.2M600.7 370.9V388.3M598.0 374.0H600.7M600.7 372.1H603.4M606.4 348.1V372.9M603.7 372.1H606.4M606.4 356.6H609.1M612.0 349.7V361.3M609.3 356.6H612.0M612.0 352.8H614.7M617.7 343.1V357.4M615.0 352.8H617.7M617.7 348.9H620.4M629.0 340.4V358.6M626.3 352.0H629.0M629.0 345.8H631.7M640.3 338.1V361.3M637.6 359.7H640.3M640.3 345.0H643.0M651.6 352.0V362.4M648.9 356.6H651.6M651.6 354.7H654.3M662.9 345.8V363.6M660.2 355.8H662.9M662.9 349.7H665.6M668.5 325.7V350.8M665.8 349.7H668.5M668.5 337.3H671.2M679.8 325.1V346.4M677.1 336.7H679.8M679.8 338.6H682.5M696.8 358.7V378.5M694.1 367.6H696.8M696.8 361.1H699.5M702.4 325.1V363.8M699.7 361.1H702.4M702.4 341.7H705.1M708.1 317.4V344.4M705.4 341.7H708.1M708.1 334.0H710.8M730.7 461.5V493.2M728.0 487.4H730.7M730.7 481.6H733.4M736.3 467.0V493.2M733.6 481.6H736.3M736.3 469.3H739.0M747.6 468.1V494.4M744.9 478.6H747.6M747.6 477.0H750.3M753.2 451.5V479.7M750.5 477.0H753.2M753.2 466.2H755.9M758.9 451.5V475.8M756.2 466.2H758.9M758.9 453.8H761.6M792.8 468.1V493.2M790.1 488.6H792.8M792.8 470.0H795.5M821.0 500.2V521.1M818.3 516.4H821.0M821.0 501.7H823.7M826.7 475.8V502.9M824.0 501.7H826.7M826.7 477.8H829.4M832.3 446.9V479.7M829.6 477.8H832.3M832.3 477.0H835.0M843.6 421.7V491.3M840.9 490.5H843.6M843.6 459.2H846.3M854.9 456.5V489.4M852.2 477.8H854.9M854.9 464.3H857.6M860.6 436.4V466.2M857.9 464.3H860.6M860.6 446.1H863.3M871.9 470.0V536.0M869.2 516.4H871.9M871.9 485.5H874.6M877.5 464.3V491.3M874.8 485.5H877.5M877.5 466.2H880.2M888.8 457.7V482.8M886.1 481.6H888.8M888.8 460.4H891.5M917.0 480.0V497.0M914.3 495.0H917.0M917.0 487.0H919.7M934.0 588.0V670.0M931.3 620.0H934.0M934.0 614.0H936.7M945.3 621.0V658.0M942.6 654.0H945.3M945.3 634.5H948.0M962.2 602.0V678.0M959.5 665.5H962.2M962.2 654.0H964.9M967.9 621.5V662.0M965.2 654.0H967.9M967.9 622.0H970.6" stroke="#14814d" stroke-width="2" fill="none"/><path d="M968 622H1002" stroke="#0f8550" stroke-width="2.4" stroke-dasharray="6 6" fill="none"/><rect x="1002" y="598.3" width="114" height="47.4" rx="5" fill="#06874b"/><path d="M1139 694H2163M2192.7 166V693.5" stroke="#b3d7fb" stroke-width="2" fill="none"/><path d="M1275.0 694V703.6M1423.2 694V703.6M1571.0 694V703.6M1719.0 694V703.6M1866.7 694V703.6M2014.7 694V703.6M2162.8 694V703.6M2192 233.4H2203M2192 372.2H2203M2192 511.0H2203M2192 649.8H2203" stroke="#b3d7fb" stroke-width="2" fill="none"/><path d="M1139 372H2163" stroke="#6aaaf8" stroke-width="2" fill="none"/><path d="M1139 288.3H2163" stroke="#d45050" stroke-width="4" stroke-dasharray="10 20" fill="none"/><path d="M1139 415.8H2163" stroke="#5a5c5e" stroke-width="4" stroke-dasharray="10 20" fill="none"/><path d="M1139 520.8H2163" stroke="#1b8752" stroke-width="4" stroke-dasharray="10 20" fill="none"/><path d="M1140.0 487.4C1141.1 487.1 1144.7 485.4 1146.7 485.4C1148.7 485.4 1150.6 484.3 1152.0 487.4C1153.5 490.5 1154.3 498.9 1155.4 504.1C1156.5 509.3 1157.6 517.1 1158.7 518.8C1159.8 520.5 1161.0 516.6 1162.1 514.1C1163.2 511.7 1164.1 506.3 1165.4 504.1C1166.7 501.9 1168.8 505.8 1170.1 500.7C1171.4 495.7 1172.3 485.2 1173.4 474.0C1174.5 462.9 1175.9 441.1 1176.8 433.9C1177.7 426.8 1177.9 430.4 1178.8 431.3C1179.7 432.2 1181.0 436.9 1182.1 439.3C1183.2 441.6 1184.1 445.3 1185.5 445.3C1186.8 445.3 1188.6 440.5 1190.1 439.3C1191.7 438.1 1193.1 437.7 1194.8 437.9C1196.5 438.2 1198.5 440.7 1200.2 440.6C1201.8 440.5 1203.2 439.5 1204.8 437.3C1206.5 435.0 1208.5 430.6 1210.2 427.3C1211.8 423.9 1213.2 422.8 1214.9 417.2C1216.5 411.7 1218.2 398.0 1220.2 393.8C1222.2 389.7 1224.7 392.7 1226.9 392.5C1229.1 392.3 1231.7 392.1 1233.6 392.5C1235.5 393.0 1236.9 396.1 1238.2 395.2C1239.6 394.3 1240.5 389.8 1241.6 387.2C1242.7 384.5 1243.5 379.4 1244.9 379.1C1246.4 378.9 1248.3 385.4 1250.3 385.8C1252.3 386.3 1254.7 382.7 1256.9 381.8C1259.2 380.9 1261.7 380.5 1263.6 380.5C1265.5 380.5 1267.0 383.2 1268.3 381.8C1269.6 380.5 1270.4 374.7 1271.6 372.5C1272.9 370.2 1274.2 368.5 1275.7 368.5C1277.1 368.5 1278.8 373.8 1280.3 372.5C1281.9 371.1 1283.7 363.8 1285.0 360.4C1286.3 357.1 1287.1 354.1 1288.3 352.4C1289.6 350.8 1290.9 353.0 1292.4 350.4C1293.8 347.9 1295.1 342.1 1297.0 337.1C1298.9 332.0 1301.5 325.9 1303.7 320.4C1305.9 314.8 1308.2 308.7 1310.4 303.6C1312.6 298.6 1315.1 294.4 1317.1 290.3C1319.1 286.2 1321.0 281.2 1322.4 278.9C1323.9 276.7 1324.4 276.4 1325.8 276.9C1327.1 277.5 1329.1 282.6 1330.4 282.3C1331.8 281.9 1332.7 276.7 1333.8 274.9C1334.9 273.1 1336.0 270.1 1337.1 271.6C1338.2 273.0 1339.3 278.3 1340.5 283.6C1341.6 289.0 1342.7 297.5 1343.8 303.6C1344.9 309.8 1346.0 310.9 1347.1 320.4C1348.3 329.8 1349.4 345.4 1350.5 360.4C1351.6 375.5 1352.9 399.7 1353.8 410.6C1354.7 421.4 1355.1 424.7 1355.8 425.3C1356.6 425.8 1357.6 420.8 1358.5 413.9C1359.4 407.0 1360.1 389.2 1361.2 383.8C1362.3 378.5 1364.0 385.7 1365.2 381.8C1366.4 377.9 1367.4 375.1 1368.5 360.4C1369.6 345.7 1370.8 314.8 1371.9 293.6C1373.0 272.5 1374.1 251.3 1375.2 233.5C1376.3 215.7 1377.7 196.4 1378.5 186.7C1379.4 177.0 1379.7 176.7 1380.6 175.4C1381.4 174.0 1382.8 175.7 1383.9 178.7C1385.0 181.7 1385.9 186.5 1387.2 193.4C1388.6 200.3 1390.2 210.7 1391.9 220.1C1393.6 229.6 1395.9 242.4 1397.3 250.2C1398.6 258.0 1398.7 260.8 1400.0 266.9C1401.3 273.0 1403.7 281.4 1405.3 286.9C1407.0 292.5 1408.7 299.8 1410.0 300.3C1411.4 300.9 1412.2 293.6 1413.4 290.3C1414.5 286.9 1415.6 279.7 1416.7 280.3C1417.8 280.8 1418.9 289.7 1420.0 293.6C1421.2 297.5 1421.9 302.2 1423.4 303.6C1424.8 305.1 1427.1 304.0 1428.7 302.3C1430.4 300.6 1432.2 295.3 1433.4 293.6C1434.6 292.0 1435.2 289.0 1436.1 292.3C1437.0 295.6 1437.7 305.4 1438.8 313.7C1439.8 321.9 1440.8 336.5 1442.1 341.7C1443.4 347.0 1445.1 344.2 1446.8 345.1C1448.4 346.0 1450.4 346.2 1452.1 347.1C1453.8 348.0 1455.5 349.2 1456.8 350.4C1458.1 351.6 1459.0 355.5 1460.1 354.4C1461.2 353.3 1462.4 350.5 1463.5 343.7C1464.6 336.9 1465.5 324.3 1466.8 313.7C1468.1 303.1 1470.0 289.7 1471.5 280.3C1472.9 270.8 1474.1 265.2 1475.5 256.9C1476.9 248.5 1478.8 237.9 1480.2 230.2C1481.5 222.4 1482.4 213.8 1483.5 210.1C1484.6 206.4 1485.6 207.5 1486.9 208.1C1488.1 208.7 1489.5 209.2 1490.9 213.5C1492.2 217.7 1493.5 226.8 1494.9 233.5C1496.2 240.2 1497.7 247.1 1498.9 253.5C1500.1 260.0 1500.9 267.8 1502.2 272.2C1503.6 276.7 1505.5 276.1 1506.9 280.3C1508.3 284.4 1509.6 292.2 1510.9 297.0C1512.2 301.8 1513.4 307.9 1514.9 309.0C1516.5 310.1 1518.5 305.1 1520.3 303.6C1522.0 302.2 1523.9 303.1 1525.6 300.3C1527.3 297.5 1529.0 290.0 1530.3 286.9C1531.6 283.9 1532.5 281.2 1533.6 282.3C1534.7 283.4 1535.9 287.6 1537.0 293.6C1538.1 299.6 1539.2 313.9 1540.3 318.3C1541.4 322.8 1542.5 320.6 1543.6 320.4C1544.8 320.1 1545.9 314.2 1547.0 317.0C1548.1 319.8 1549.2 330.4 1550.3 337.1C1551.4 343.7 1552.3 349.9 1553.7 357.1C1555.0 364.3 1556.9 372.7 1558.3 380.5C1559.8 388.3 1561.2 397.7 1562.4 403.9C1563.5 410.0 1564.0 417.2 1565.0 417.2C1566.0 417.2 1567.3 407.5 1568.4 403.9C1569.5 400.2 1570.5 396.1 1571.7 395.2C1572.9 394.3 1574.3 395.4 1575.7 398.5C1577.2 401.6 1579.1 409.1 1580.4 413.9C1581.7 418.7 1582.6 420.6 1583.7 427.3C1584.9 433.9 1585.9 444.5 1587.1 454.0C1588.3 463.4 1589.8 475.5 1591.1 484.0C1592.4 492.6 1593.9 504.3 1595.1 505.4C1596.3 506.5 1597.3 498.2 1598.4 490.7C1599.6 483.3 1600.8 464.6 1601.8 460.7C1602.8 456.8 1603.6 467.9 1604.4 467.3C1605.3 466.8 1606.0 464.0 1607.1 457.3C1608.2 450.6 1610.0 433.9 1611.1 427.3C1612.2 420.6 1612.8 416.7 1613.8 417.2C1614.8 417.8 1616.0 425.8 1617.1 430.6C1618.3 435.4 1619.0 444.5 1620.5 446.0C1621.9 447.4 1624.0 441.5 1625.8 439.3C1627.6 437.1 1629.3 435.7 1631.2 432.6C1633.1 429.5 1635.4 425.4 1637.2 420.6C1639.0 415.8 1640.5 407.2 1641.9 403.9C1643.2 400.5 1644.0 399.1 1645.2 400.5C1646.4 402.0 1648.0 410.1 1649.2 412.6C1650.4 415.0 1651.4 417.2 1652.6 415.2C1653.7 413.2 1654.6 405.2 1655.9 400.5C1657.2 395.9 1658.9 391.6 1660.6 387.2C1662.2 382.7 1664.5 376.9 1665.9 373.8C1667.4 370.7 1668.1 367.3 1669.3 368.5C1670.4 369.6 1671.6 376.0 1672.6 380.5C1673.6 384.9 1674.3 394.6 1675.3 395.2C1676.3 395.7 1677.8 386.6 1678.6 383.8C1679.4 381.1 1679.0 379.4 1680.0 378.8C1681.0 378.2 1683.0 378.8 1684.7 380.1C1686.3 381.5 1688.4 382.9 1690.0 386.8C1691.7 390.7 1693.3 397.9 1694.7 403.5C1696.1 409.1 1697.3 415.0 1698.7 420.2C1700.2 425.5 1701.8 431.8 1703.4 434.9C1704.9 438.0 1706.6 439.2 1708.1 438.9C1709.5 438.7 1710.6 434.7 1712.1 433.6C1713.5 432.5 1715.2 431.7 1716.7 432.2C1718.3 432.8 1720.0 437.8 1721.4 436.9C1722.9 436.0 1724.2 430.8 1725.4 426.9C1726.7 423.0 1727.9 416.1 1728.8 413.5C1729.7 411.0 1730.0 409.3 1730.8 411.5C1731.6 413.8 1732.4 418.8 1733.5 426.9C1734.5 435.0 1735.7 449.2 1736.8 460.3C1737.9 471.4 1739.0 483.7 1740.1 493.7C1741.2 503.7 1742.4 512.9 1743.5 520.4C1744.6 528.0 1745.6 534.5 1746.8 539.1C1748.0 543.8 1749.5 546.6 1750.8 548.5C1752.2 550.4 1753.5 551.0 1754.8 550.5C1756.2 550.1 1757.6 549.7 1758.8 545.8C1760.1 541.9 1761.1 534.7 1762.2 527.1C1763.3 519.6 1764.5 506.5 1765.5 500.4C1766.5 494.3 1767.1 492.6 1768.2 490.4C1769.3 488.1 1771.0 490.4 1772.2 487.0C1773.4 483.7 1774.4 474.5 1775.5 470.3C1776.7 466.2 1777.9 462.9 1778.9 462.3C1779.9 461.8 1780.7 465.1 1781.6 467.0C1782.4 468.9 1783.3 475.3 1784.2 473.7C1785.1 472.0 1785.9 461.8 1786.9 457.0C1787.9 452.2 1789.2 446.1 1790.2 444.9C1791.2 443.8 1792.0 447.2 1792.9 450.3C1793.8 453.4 1794.7 460.0 1795.6 463.6C1796.5 467.3 1797.4 474.0 1798.3 472.3C1799.2 470.7 1800.0 459.9 1800.9 453.6C1801.8 447.4 1802.8 438.3 1803.6 434.9C1804.4 431.6 1804.8 431.6 1805.6 433.6C1806.4 435.6 1807.4 442.8 1808.3 446.9C1809.2 451.1 1810.1 457.2 1811.0 458.3C1811.8 459.4 1812.6 455.5 1813.6 453.6C1814.6 451.7 1815.6 448.3 1817.0 446.9C1818.3 445.6 1820.2 446.7 1821.6 445.6C1823.1 444.5 1824.4 443.4 1825.7 440.3C1826.9 437.1 1827.9 431.9 1829.0 426.9C1830.1 421.9 1831.3 414.4 1832.3 410.2C1833.3 406.0 1834.1 402.1 1835.0 401.5C1835.9 401.0 1836.8 404.3 1837.7 406.9C1838.6 409.4 1839.4 416.9 1840.4 416.9C1841.4 416.9 1842.6 409.4 1843.7 406.9C1844.8 404.3 1845.9 402.1 1847.0 401.5C1848.1 401.0 1849.3 400.4 1850.4 403.5C1851.5 406.6 1852.6 413.0 1853.7 420.2C1854.8 427.5 1856.1 440.3 1857.1 446.9C1858.1 453.6 1858.7 458.6 1859.7 460.3C1860.7 462.0 1862.0 461.4 1863.1 457.0C1864.2 452.5 1865.2 442.5 1866.4 433.6C1867.6 424.7 1869.2 411.9 1870.4 403.5C1871.6 395.2 1872.6 388.3 1873.8 383.5C1874.9 378.7 1876.2 375.9 1877.1 374.8C1878.0 373.7 1878.4 371.4 1879.1 376.8C1879.8 382.1 1880.4 394.1 1881.1 406.9C1881.8 419.7 1882.3 434.7 1883.1 453.6C1883.9 472.6 1884.9 501.5 1885.8 520.4C1886.7 539.4 1887.6 555.0 1888.5 567.2C1889.3 579.5 1890.2 586.7 1891.1 593.9C1892.0 601.2 1892.9 607.3 1893.8 610.6C1894.7 614.0 1895.6 615.1 1896.5 614.0C1897.4 612.9 1898.3 609.5 1899.1 604.0C1900.0 598.4 1900.8 588.9 1901.8 580.6C1902.8 572.2 1904.0 561.1 1905.2 553.8C1906.3 546.6 1907.3 540.3 1908.5 537.1C1909.7 534.0 1911.2 536.3 1912.5 535.1C1913.8 534.0 1915.2 533.5 1916.5 530.5C1917.9 527.5 1919.2 522.1 1920.5 517.1C1921.9 512.1 1923.2 505.6 1924.5 500.4C1925.9 495.2 1927.3 489.8 1928.5 485.7C1929.8 481.6 1930.8 477.5 1931.9 475.7C1933.0 473.9 1934.0 474.0 1935.2 475.0C1936.5 476.0 1938.4 480.5 1939.2 481.7C1940.0 482.9 1939.1 483.0 1940.0 482.4C1940.9 481.9 1943.2 478.5 1944.7 478.4C1946.1 478.3 1947.2 480.5 1948.7 481.7C1950.1 483.0 1951.8 484.9 1953.4 485.8C1954.9 486.6 1956.6 487.4 1958.0 487.1C1959.5 486.8 1960.8 486.2 1962.1 483.7C1963.3 481.3 1964.4 476.8 1965.4 472.4C1966.4 467.9 1967.2 460.1 1968.1 457.0C1969.0 453.9 1969.9 452.9 1970.7 453.7C1971.6 454.5 1972.4 458.6 1973.4 461.7C1974.4 464.8 1975.6 469.8 1976.8 472.4C1977.9 474.9 1979.0 477.4 1980.1 477.1C1981.2 476.7 1982.4 472.3 1983.4 470.4C1984.4 468.5 1985.2 465.7 1986.1 465.7C1987.0 465.7 1987.8 467.9 1988.8 470.4C1989.8 472.8 1991.2 478.2 1992.1 480.4C1993.0 482.6 1993.4 484.9 1994.1 483.7C1994.9 482.6 1995.8 478.2 1996.8 473.7C1997.8 469.3 1999.0 462.6 2000.2 457.0C2001.3 451.4 2002.4 444.8 2003.5 440.3C2004.6 435.8 2005.7 432.5 2006.8 430.3C2007.9 428.1 2009.1 426.9 2010.2 426.9C2011.3 426.9 2012.3 428.6 2013.5 430.3C2014.7 432.0 2016.4 437.5 2017.5 437.0C2018.6 436.4 2019.2 432.0 2020.2 426.9C2021.2 421.9 2022.5 411.1 2023.5 406.9C2024.5 402.7 2025.3 401.0 2026.2 401.5C2027.1 402.1 2028.0 407.1 2028.9 410.2C2029.8 413.3 2030.6 419.7 2031.6 420.3C2032.6 420.8 2033.8 417.5 2034.9 413.6C2036.0 409.7 2037.1 401.9 2038.2 396.9C2039.4 391.8 2040.6 386.3 2041.6 383.5C2042.6 380.7 2043.5 378.5 2044.3 380.2C2045.0 381.8 2045.6 385.7 2046.3 393.5C2046.9 401.3 2047.6 416.0 2048.3 426.9C2048.9 437.9 2049.6 455.1 2050.3 459.0C2050.9 462.9 2051.5 455.7 2052.3 450.3C2053.1 445.0 2054.0 434.7 2055.0 426.9C2056.0 419.1 2057.3 409.4 2058.3 403.5C2059.3 397.6 2060.1 393.7 2061.0 391.5C2061.9 389.3 2062.8 389.0 2063.6 390.2C2064.5 391.4 2065.4 396.4 2066.3 398.9C2067.2 401.3 2068.1 405.8 2069.0 404.9C2069.9 404.0 2070.8 398.2 2071.7 393.5C2072.6 388.8 2073.6 380.2 2074.3 376.8C2075.1 373.5 2075.6 372.4 2076.3 373.5C2077.1 374.6 2078.0 379.3 2079.0 383.5C2080.0 387.7 2081.2 394.6 2082.4 398.9C2083.5 403.1 2084.5 406.7 2085.7 408.9C2086.9 411.1 2088.4 411.5 2089.7 412.2C2091.0 413.0 2092.3 413.1 2093.7 413.6C2095.2 414.0 2097.0 414.4 2098.4 414.9C2099.8 415.5 2101.3 418.5 2102.4 416.9C2103.5 415.4 2104.4 406.7 2105.1 405.6C2105.8 404.4 2106.1 402.2 2106.4 410.2C2106.8 418.2 2106.8 429.7 2107.1 453.7C2107.4 477.6 2108.0 525.0 2108.4 553.9C2108.9 582.9 2109.3 608.5 2109.8 627.4C2110.2 646.4 2110.7 658.3 2111.1 667.5C2111.5 676.8 2111.9 681.2 2112.4 682.9C2113.0 684.6 2113.8 682.4 2114.4 677.6C2115.1 672.8 2115.7 663.6 2116.4 654.2C2117.2 644.7 2118.2 630.2 2119.1 620.8C2120.0 611.3 2121.0 602.4 2121.8 597.4C2122.6 592.4 2123.0 590.1 2123.8 590.7C2124.6 591.2 2125.6 597.9 2126.5 600.7C2127.4 603.5 2128.3 609.6 2129.1 607.4C2130.0 605.2 2130.9 595.1 2131.8 587.3C2132.7 579.5 2133.7 566.5 2134.5 560.6C2135.3 554.7 2135.7 552.5 2136.5 551.9C2137.3 551.4 2138.3 555.8 2139.2 557.3C2140.1 558.7 2141.0 561.7 2141.8 560.6C2142.7 559.5 2143.4 555.0 2144.5 550.6C2145.6 546.1 2147.2 539.4 2148.5 533.9C2149.9 528.3 2151.2 523.3 2152.5 517.2C2153.9 511.0 2155.3 503.2 2156.5 497.1C2157.8 491.0 2159.0 484.1 2159.9 480.4C2160.8 476.7 2161.6 476.0 2161.9 475.1" stroke="#1279f3" stroke-width="2.1" fill="none" stroke-linejoin="round" stroke-linecap="round"/><path d="M2161 475H2190" stroke="#1279f3" stroke-width="2" stroke-dasharray="5 4" fill="none"/><rect x="2189" y="451" width="54" height="47.8" rx="6" fill="#0a7bff"/><path d="M1974.7 617.5Q2008 654 2064 665.8" stroke="#0b3cff" stroke-width="5.6" fill="none"/><path d="M2063.5 652.3L2087.7 669.3L2058.7 679.3Z" fill="#0b3cff"/><path d="M2265 694H3227.4M3317 166V693.5" stroke="#b3d7fb" stroke-width="2" fill="none"/><path d="M2392.4 694V703.6M2531.5 694V703.6M2670.8 694V703.6M2809.6 694V703.6M2948.7 694V703.6M3087.7 694V703.6M3226.8 694V703.6M3307.5 206.3H3326.8M3307.5 280.9H3326.8M3307.5 355.5H3326.8M3307.5 430.1H3326.8M3307.5 504.7H3326.8M3307.5 579.3H3326.8M3307.5 653.9H3326.8" stroke="#b3d7fb" stroke-width="2" fill="none"/><path d="M2264.3 281.0V300.3A2.05 2.05 0 0 0 2268.4 300.3V281.0ZM2270.2 281.0V294.0A2.05 2.05 0 0 0 2274.3 294.0V281.0ZM2276.2 281.0V294.0A2.05 2.05 0 0 0 2280.3 294.0V281.0ZM2281.6 281.0V361.5A2.05 2.05 0 0 0 2285.7 361.5V281.0ZM2287.5 281.0V287.6A2.05 2.05 0 0 0 2291.6 287.6V281.0ZM2310.8 281.0V286.8A2.05 2.05 0 0 0 2314.9 286.8V281.0ZM2316.7 281.0V285.5A2.05 2.05 0 0 0 2320.8 285.5V281.0ZM2322.6 281.0V284.7A2.05 2.05 0 0 0 2326.7 284.7V281.0ZM2328.1 281.0V300.3A2.05 2.05 0 0 0 2332.2 300.3V281.0ZM2345.8 281.0V283.4A2.05 2.05 0 0 0 2349.9 283.4V281.0ZM2351.3 281.0V326.9A2.05 2.05 0 0 0 2355.4 326.9V281.0ZM2357.2 281.0V285.5A2.05 2.05 0 0 0 2361.3 285.5V281.0ZM2369.0 281.0V286.4A2.05 2.05 0 0 0 2373.1 286.4V281.0ZM2374.5 281.0V282.6H2378.6V281.0ZM2386.3 281.0V291.0A2.05 2.05 0 0 0 2390.4 291.0V281.0ZM2392.2 281.0V289.8A2.05 2.05 0 0 0 2396.3 289.8V281.0ZM2397.7 281.0V294.8A2.05 2.05 0 0 0 2401.8 294.8V281.0ZM2420.9 281.0V291.9A2.05 2.05 0 0 0 2425.0 291.9V281.0ZM2432.7 281.0V289.8A2.05 2.05 0 0 0 2436.8 289.8V281.0ZM2438.2 281.0V386.8A2.05 2.05 0 0 0 2442.3 386.8V281.0ZM2450.0 281.0V337.4A2.05 2.05 0 0 0 2454.1 337.4V281.0ZM2455.9 281.0V320.6A2.05 2.05 0 0 0 2460.0 320.6V281.0ZM2478.7 281.0V285.5A2.05 2.05 0 0 0 2482.8 285.5V281.0ZM2501.9 281.0V344.6A2.05 2.05 0 0 0 2506.0 344.6V281.0ZM2507.8 281.0V284.3A2.05 2.05 0 0 0 2511.9 284.3V281.0ZM2513.7 281.0V285.5A2.05 2.05 0 0 0 2517.8 285.5V281.0ZM2519.6 281.0V282.6H2523.7V281.0ZM2525.1 281.0V282.6H2529.2V281.0ZM2531.0 281.0V282.6A2.05 2.05 0 0 0 2535.1 282.6V281.0ZM2536.9 281.0V282.6H2541.0V281.0ZM2541.9 281.0V289.3A2.05 2.05 0 0 0 2546.0 289.3V281.0ZM2547.3 281.0V290.3A2.05 2.05 0 0 0 2551.4 290.3V281.0ZM2565.0 281.0V294.2A2.05 2.05 0 0 0 2569.1 294.2V281.0ZM2576.3 281.0V287.8A2.05 2.05 0 0 0 2580.4 287.8V281.0ZM2582.2 281.0V282.6H2586.3V281.0ZM2588.1 281.0V287.8A2.05 2.05 0 0 0 2592.2 287.8V281.0ZM2605.3 281.0V282.6H2609.4V281.0ZM2611.2 281.0V301.6A2.05 2.05 0 0 0 2615.3 301.6V281.0ZM2628.4 281.0V303.5A2.05 2.05 0 0 0 2632.5 303.5V281.0ZM2634.3 281.0V290.3A2.05 2.05 0 0 0 2638.4 290.3V281.0ZM2640.2 281.0V316.3A2.05 2.05 0 0 0 2644.3 316.3V281.0ZM2646.1 281.0V293.7A2.05 2.05 0 0 0 2650.2 293.7V281.0ZM2652.1 281.0V282.9A2.05 2.05 0 0 0 2656.2 282.9V281.0ZM2663.4 281.0V407.3A2.05 2.05 0 0 0 2667.5 407.3V281.0ZM2686.5 281.0V282.9A2.05 2.05 0 0 0 2690.6 282.9V281.0ZM2692.4 281.0V286.3A2.05 2.05 0 0 0 2696.5 286.3V281.0ZM2698.3 281.0V282.6H2702.4V281.0ZM2704.2 281.0V282.6H2708.3V281.0ZM2715.5 281.0V288.8A2.05 2.05 0 0 0 2719.6 288.8V281.0ZM2727.3 281.0V282.6H2731.4V281.0ZM2733.2 281.0V282.6H2737.3V281.0ZM2738.6 281.0V285.3A2.05 2.05 0 0 0 2742.7 285.3V281.0ZM2744.5 281.0V282.9A2.05 2.05 0 0 0 2748.6 282.9V281.0ZM2750.4 281.0V282.6H2754.5V281.0ZM2791.2 281.0V284.4A2.05 2.05 0 0 0 2795.3 284.4V281.0ZM2796.6 281.0V282.9A2.05 2.05 0 0 0 2800.7 282.9V281.0ZM2802.5 281.0V282.9A2.05 2.05 0 0 0 2806.6 282.9V281.0ZM2808.4 281.0V293.7A2.05 2.05 0 0 0 2812.5 293.7V281.0ZM2824.3 281.0V321.5A2.05 2.05 0 0 0 2828.4 321.5V281.0ZM2830.0 281.0V340.5A2.05 2.05 0 0 0 2834.1 340.5V281.0ZM2847.1 281.0V285.4A2.05 2.05 0 0 0 2851.2 285.4V281.0ZM2853.4 281.0V282.6H2857.5V281.0ZM2859.1 281.0V282.3A2.05 2.05 0 0 0 2863.2 282.3V281.0ZM2864.8 281.0V284.2A2.05 2.05 0 0 0 2868.9 284.2V281.0ZM2870.5 281.0V286.7A2.05 2.05 0 0 0 2874.6 286.7V281.0ZM2876.2 281.0V290.5A2.05 2.05 0 0 0 2880.3 290.5V281.0ZM2881.9 281.0V284.2A2.05 2.05 0 0 0 2886.0 284.2V281.0ZM2888.2 281.0V285.4A2.05 2.05 0 0 0 2892.3 285.4V281.0ZM2893.9 281.0V302.5A2.05 2.05 0 0 0 2898.0 302.5V281.0ZM2899.6 281.0V282.6H2903.7V281.0ZM2911.0 281.0V282.6H2915.1V281.0ZM2916.7 281.0V289.9A2.05 2.05 0 0 0 2920.8 289.9V281.0ZM2922.4 281.0V282.6H2926.5V281.0ZM2934.4 281.0V284.2A2.05 2.05 0 0 0 2938.5 284.2V281.0ZM2945.8 281.0V301.3A2.05 2.05 0 0 0 2949.9 301.3V281.0ZM2951.5 281.0V282.6H2955.6V281.0ZM2957.2 281.0V317.1A2.05 2.05 0 0 0 2961.3 317.1V281.0ZM2962.9 281.0V307.6A2.05 2.05 0 0 0 2967.0 307.6V281.0ZM2968.6 281.0V326.6A2.05 2.05 0 0 0 2972.7 326.6V281.0ZM2974.3 281.0V288.6A2.05 2.05 0 0 0 2978.4 288.6V281.0ZM2980.7 281.0V282.6H2984.8V281.0ZM2986.4 281.0V284.2A2.05 2.05 0 0 0 2990.5 284.2V281.0ZM2992.1 281.0V353.8A2.05 2.05 0 0 0 2996.2 353.8V281.0ZM3003.5 281.0V288.6A2.05 2.05 0 0 0 3007.6 288.6V281.0ZM3026.9 281.0V282.6H3031.0V281.0ZM3032.6 281.0V293.7A2.05 2.05 0 0 0 3036.7 293.7V281.0ZM3038.3 281.0V298.1A2.05 2.05 0 0 0 3042.4 298.1V281.0ZM3049.7 281.0V282.6H3053.8V281.0ZM3056.0 281.0V353.8A2.05 2.05 0 0 0 3060.1 353.8V281.0ZM3067.4 281.0V288.6A2.05 2.05 0 0 0 3071.5 288.6V281.0ZM3084.5 281.0V282.3A2.05 2.05 0 0 0 3088.6 282.3V281.0ZM3090.2 281.0V287.3A2.05 2.05 0 0 0 3094.3 287.3V281.0ZM3101.6 281.0V304.4A2.05 2.05 0 0 0 3105.7 304.4V281.0ZM3107.9 281.0V307.6A2.05 2.05 0 0 0 3112.0 307.6V281.0ZM3113.6 281.0V318.4A2.05 2.05 0 0 0 3117.7 318.4V281.0ZM3130.7 281.0V286.7A2.05 2.05 0 0 0 3134.8 286.7V281.0ZM3142.1 281.0V320.3A2.05 2.05 0 0 0 3146.2 320.3V281.0ZM3147.8 281.0V282.6H3151.9V281.0ZM3164.8 281.0V285.6A2.05 2.05 0 0 0 3169.0 285.6V281.0ZM3170.6 281.0V283.1A2.05 2.05 0 0 0 3174.8 283.1V281.0ZM3176.9 281.0V389.1A2.05 2.05 0 0 0 3181.1 389.1V281.0ZM3182.8 281.0V404.6A2.05 2.05 0 0 0 3187.0 404.6V281.0ZM3188.5 281.0V636.9A2.05 2.05 0 0 0 3192.7 636.9V281.0ZM3194.3 281.0V642.0A2.05 2.05 0 0 0 3198.5 642.0V281.0ZM3200.1 281.0V516.6A2.05 2.05 0 0 0 3204.2 516.6V281.0ZM3205.9 281.0V681.9A2.05 2.05 0 0 0 3210.1 681.9V281.0ZM3211.8 281.0V586.9A2.05 2.05 0 0 0 3215.9 586.9V281.0ZM3217.5 281.0V412.8A2.05 2.05 0 0 0 3221.7 412.8V281.0Z" fill="#d25555"/><path d="M2293.5 281.0V248.4A2.05 2.05 0 0 1 2297.6 248.4V281.0ZM2299.4 281.0V182.1A2.05 2.05 0 0 1 2303.5 182.1V281.0ZM2304.8 281.0V274.1A2.05 2.05 0 0 1 2308.9 274.1V281.0ZM2334.0 281.0V243.3A2.05 2.05 0 0 1 2338.1 243.3V281.0ZM2339.9 281.0V177.9A2.05 2.05 0 0 1 2344.0 177.9V281.0ZM2363.1 281.0V266.5A2.05 2.05 0 0 1 2367.2 266.5V281.0ZM2380.4 281.0V250.9A2.05 2.05 0 0 1 2384.5 250.9V281.0ZM2403.6 281.0V262.3A2.05 2.05 0 0 1 2407.7 262.3V281.0ZM2409.5 281.0V249.7A2.05 2.05 0 0 1 2413.6 249.7V281.0ZM2415.0 281.0V271.6A2.05 2.05 0 0 1 2419.1 271.6V281.0ZM2426.8 281.0V272.9A2.05 2.05 0 0 1 2430.9 272.9V281.0ZM2444.1 281.0V271.6A2.05 2.05 0 0 1 2448.2 271.6V281.0ZM2461.4 281.0V206.2A2.05 2.05 0 0 1 2465.5 206.2V281.0ZM2467.3 281.0V277.5A2.05 2.05 0 0 1 2471.4 277.5V281.0ZM2473.2 281.0V279.4H2477.3V281.0ZM2484.6 281.0V233.6A2.05 2.05 0 0 1 2488.7 233.6V281.0ZM2490.5 281.0V251.8A2.05 2.05 0 0 1 2494.6 251.8V281.0ZM2496.4 281.0V274.1A2.05 2.05 0 0 1 2500.5 274.1V281.0ZM2553.2 281.0V270.2A2.05 2.05 0 0 1 2557.3 270.2V281.0ZM2559.1 281.0V272.7A2.05 2.05 0 0 1 2563.2 272.7V281.0ZM2570.9 281.0V277.6A2.05 2.05 0 0 1 2575.0 277.6V281.0ZM2594.0 281.0V272.7A2.05 2.05 0 0 1 2598.1 272.7V281.0ZM2599.4 281.0V267.8A2.05 2.05 0 0 1 2603.5 267.8V281.0ZM2617.1 281.0V279.1A2.05 2.05 0 0 1 2621.2 279.1V281.0ZM2623.0 281.0V265.3A2.05 2.05 0 0 1 2627.1 265.3V281.0ZM2657.5 281.0V279.4H2661.6V281.0ZM2669.3 281.0V277.6A2.05 2.05 0 0 1 2673.4 277.6V281.0ZM2675.2 281.0V253.0A2.05 2.05 0 0 1 2679.3 253.0V281.0ZM2681.1 281.0V267.8A2.05 2.05 0 0 1 2685.2 267.8V281.0ZM2709.6 281.0V275.1A2.05 2.05 0 0 1 2713.7 275.1V281.0ZM2721.4 281.0V279.4H2725.5V281.0ZM2756.3 281.0V237.3A2.05 2.05 0 0 1 2760.4 237.3V281.0ZM2762.2 281.0V264.3A2.05 2.05 0 0 1 2766.3 264.3V281.0ZM2767.6 281.0V271.2A2.05 2.05 0 0 1 2771.7 271.2V281.0ZM2773.5 281.0V274.2A2.05 2.05 0 0 1 2777.6 274.2V281.0ZM2779.4 281.0V277.6A2.05 2.05 0 0 1 2783.5 277.6V281.0ZM2785.3 281.0V279.1A2.05 2.05 0 0 1 2789.4 279.1V281.0ZM2814.3 281.0V279.4H2818.4V281.0ZM2820.2 281.0V279.4H2824.3V281.0ZM2835.7 281.0V276.8A2.05 2.05 0 0 1 2839.8 276.8V281.0ZM2841.4 281.0V274.9A2.05 2.05 0 0 1 2845.5 274.9V281.0ZM2905.3 281.0V279.4H2909.4V281.0ZM2928.8 281.0V264.1A2.05 2.05 0 0 1 2932.9 264.1V281.0ZM2940.1 281.0V279.4H2944.2V281.0ZM2997.8 281.0V235.0A2.05 2.05 0 0 1 3001.9 235.0V281.0ZM3009.2 281.0V249.5A2.05 2.05 0 0 1 3013.3 249.5V281.0ZM3014.9 281.0V276.8A2.05 2.05 0 0 1 3019.0 276.8V281.0ZM3020.6 281.0V268.5A2.05 2.05 0 0 1 3024.7 268.5V281.0ZM3044.0 281.0V265.4A2.05 2.05 0 0 1 3048.1 265.4V281.0ZM3061.7 281.0V279.4H3065.8V281.0ZM3073.1 281.0V278.0A2.05 2.05 0 0 1 3077.2 278.0V281.0ZM3078.8 281.0V279.3A2.05 2.05 0 0 1 3082.9 279.3V281.0ZM3095.9 281.0V229.3A2.05 2.05 0 0 1 3100.0 229.3V281.0ZM3119.3 281.0V252.7A2.05 2.05 0 0 1 3123.4 252.7V281.0ZM3125.0 281.0V262.2A2.05 2.05 0 0 1 3129.1 262.2V281.0ZM3136.4 281.0V257.8A2.05 2.05 0 0 1 3140.5 257.8V281.0ZM3223.3 281.0V250.5A2.05 2.05 0 0 1 3227.5 250.5V281.0Z" fill="#14814d"/><path d="M2265 281.3H3227" stroke="#5f9ff5" stroke-width="1.3" fill="none" opacity="0.85"/><path d="M2267.7 273.1C2268.2 273.3 2271.0 276.2 2271.9 274.8C2272.8 273.4 2274.5 264.3 2275.3 261.3C2276.0 258.3 2277.5 249.9 2278.2 249.9C2278.9 249.9 2280.5 258.4 2281.2 261.3C2281.8 264.2 2282.8 272.3 2283.7 273.9C2284.6 275.6 2287.6 275.2 2288.8 275.2C2289.9 275.2 2292.0 276.1 2293.0 273.9C2294.0 271.7 2296.3 261.4 2297.2 257.0C2298.1 252.7 2299.8 241.2 2300.6 238.1C2301.3 234.9 2302.7 231.9 2303.5 230.9C2304.4 229.9 2306.7 229.5 2307.7 229.6C2308.8 229.7 2310.7 231.2 2312.0 231.7C2313.2 232.2 2316.8 233.7 2318.3 233.8C2319.8 234.0 2323.1 232.7 2324.6 233.0C2326.1 233.2 2329.7 236.6 2330.9 235.9C2332.2 235.3 2334.2 231.1 2335.2 227.5C2336.2 224.0 2338.5 209.9 2339.4 206.4C2340.2 203.0 2341.6 199.9 2342.3 198.8C2343.1 197.7 2344.8 197.0 2345.7 197.1C2346.6 197.3 2348.9 198.5 2349.9 200.1C2350.9 201.7 2353.1 208.4 2354.2 210.6C2355.2 212.9 2357.4 218.4 2358.4 219.1C2359.4 219.7 2361.6 216.7 2362.6 216.1C2363.6 215.5 2365.5 214.6 2366.8 214.0C2368.1 213.5 2371.9 212.4 2373.1 211.5C2374.4 210.6 2376.4 207.5 2377.4 206.4C2378.4 205.3 2380.5 203.0 2381.6 202.2C2382.7 201.4 2385.4 200.2 2386.6 200.1C2387.9 199.9 2391.0 201.9 2392.1 200.9C2393.3 199.9 2395.3 193.9 2396.4 191.6C2397.4 189.4 2399.3 183.5 2400.6 181.9C2401.8 180.4 2405.5 179.4 2406.9 179.0C2408.3 178.5 2410.7 178.5 2412.0 178.1C2413.2 177.7 2416.3 175.3 2417.4 175.6C2418.6 176.0 2420.4 180.8 2421.7 181.1C2422.9 181.4 2426.6 178.2 2428.0 177.7C2429.4 177.2 2432.0 176.2 2433.1 176.9C2434.1 177.5 2435.7 180.2 2436.4 183.2C2437.2 186.2 2438.4 199.8 2439.4 202.2C2440.4 204.6 2444.0 201.9 2444.9 203.5C2445.8 205.0 2446.5 209.9 2447.0 214.9C2447.5 219.8 2448.6 236.3 2449.1 244.4C2449.6 252.5 2450.6 274.8 2451.2 282.4C2451.8 290.0 2453.4 303.4 2454.2 307.7C2454.9 312.0 2456.6 318.0 2457.5 318.2C2458.4 318.5 2460.7 311.6 2461.8 309.8C2462.8 308.0 2465.0 305.0 2466.0 303.5C2467.0 301.9 2469.2 298.5 2470.2 297.1C2471.2 295.7 2473.4 292.9 2474.4 291.6C2475.4 290.4 2477.6 287.9 2478.6 286.6C2479.6 285.2 2481.8 282.5 2482.8 280.3C2483.9 278.0 2486.1 271.1 2487.1 267.6C2488.1 264.1 2490.3 254.5 2491.3 250.7C2492.3 246.9 2494.7 238.1 2495.5 235.9C2496.3 233.8 2497.0 232.6 2497.6 232.6C2498.2 232.6 2499.8 234.5 2500.6 235.9C2501.3 237.4 2503.1 242.8 2503.9 244.4C2504.8 246.0 2506.6 247.7 2507.3 249.5C2508.1 251.2 2509.6 255.5 2510.3 259.2C2511.0 262.9 2512.5 277.0 2513.2 280.3C2514.0 283.5 2515.7 285.7 2516.6 286.6C2517.5 287.5 2519.6 287.8 2520.8 287.8C2522.1 287.8 2525.6 287.0 2527.2 286.6C2528.7 286.2 2532.0 284.9 2533.5 284.5C2535.0 284.1 2538.3 283.4 2539.8 283.2C2541.3 283.0 2544.7 281.1 2545.9 283.0C2547.1 284.8 2548.9 294.4 2549.8 298.7C2550.8 302.9 2552.9 315.2 2553.8 318.4C2554.7 321.5 2556.2 324.5 2557.2 324.8C2558.2 325.1 2561.0 322.2 2562.1 320.8C2563.3 319.5 2565.9 314.8 2567.0 313.4C2568.2 312.1 2571.0 309.6 2572.0 309.5C2573.0 309.4 2574.5 311.5 2575.4 312.5C2576.3 313.4 2578.3 317.1 2579.3 317.4C2580.4 317.6 2583.1 314.6 2584.3 314.4C2585.4 314.3 2588.1 315.1 2589.2 315.9C2590.2 316.7 2592.3 319.9 2593.1 320.8C2593.9 321.7 2594.9 323.9 2595.6 323.3C2596.3 322.7 2598.0 317.4 2599.0 315.9C2600.0 314.4 2602.8 311.7 2603.9 311.0C2605.1 310.3 2607.7 309.7 2608.9 310.0C2610.0 310.3 2612.6 312.4 2613.8 313.4C2615.0 314.4 2617.4 316.9 2618.7 318.4C2620.0 319.8 2623.4 323.9 2624.6 325.7C2625.8 327.6 2627.6 332.7 2628.5 334.1C2629.5 335.5 2631.6 337.0 2632.5 337.1C2633.3 337.1 2635.1 333.9 2635.9 334.6C2636.7 335.3 2638.5 340.8 2639.3 343.0C2640.2 345.1 2642.2 351.1 2643.3 352.8C2644.3 354.4 2647.3 357.9 2648.2 356.7C2649.1 355.5 2649.9 346.8 2650.7 343.0C2651.4 339.1 2653.3 327.1 2654.1 324.8C2654.9 322.4 2656.3 322.6 2657.1 323.3C2657.8 324.0 2659.8 328.0 2660.5 330.7C2661.2 333.3 2662.3 342.6 2663.0 345.4C2663.6 348.2 2665.2 354.4 2665.9 353.8C2666.6 353.2 2668.1 342.5 2668.9 340.5C2669.6 338.5 2671.2 336.2 2671.8 337.1C2672.4 337.9 2673.2 345.4 2673.8 347.9C2674.4 350.3 2675.8 356.1 2676.7 357.7C2677.7 359.3 2680.3 360.4 2681.6 361.1C2682.9 361.9 2686.1 363.4 2687.5 363.6C2689.0 363.8 2692.4 361.6 2693.4 362.6C2694.5 363.7 2695.6 368.9 2696.4 372.5C2697.2 376.0 2699.0 386.8 2699.8 392.1C2700.7 397.4 2702.5 411.4 2703.3 416.7C2704.0 422.0 2705.5 432.6 2706.2 436.4C2707.0 440.2 2709.0 447.1 2709.7 448.7C2710.4 450.3 2711.5 451.2 2712.1 449.7C2712.8 448.2 2714.4 439.2 2715.1 436.4C2715.8 433.6 2717.2 427.9 2718.0 426.6C2718.9 425.3 2720.9 425.5 2722.0 425.6C2723.0 425.7 2725.6 427.1 2726.9 427.5C2728.2 428.0 2731.3 428.3 2732.8 429.0C2734.3 429.8 2737.6 433.1 2739.2 433.9C2740.7 434.8 2744.1 435.8 2745.6 436.4C2747.1 437.0 2750.3 441.2 2751.5 438.9C2752.7 436.5 2754.5 422.3 2755.4 416.7C2756.3 411.1 2758.0 396.6 2758.9 392.1C2759.7 387.7 2761.3 381.4 2762.3 379.8C2763.3 378.2 2766.0 378.7 2767.2 378.9C2768.4 379.0 2771.1 381.5 2772.1 381.3C2773.2 381.1 2775.1 378.7 2776.1 377.4C2777.0 376.0 2778.9 371.0 2780.0 370.0C2781.1 369.0 2783.6 369.0 2784.9 369.0C2786.2 369.0 2789.5 369.6 2790.8 370.0C2792.1 370.4 2794.6 371.6 2795.7 372.5C2796.9 373.3 2799.5 375.9 2800.7 377.4C2801.8 378.9 2804.5 381.8 2805.6 384.8C2806.6 387.7 2808.6 398.1 2809.5 402.0C2810.5 405.8 2812.4 414.4 2813.4 416.7C2814.5 419.1 2817.1 421.3 2817.9 421.6C2818.7 422.0 2819.1 419.3 2820.0 419.4C2820.9 419.6 2824.0 419.2 2825.1 422.6C2826.1 426.0 2828.0 441.9 2828.9 447.9C2829.8 454.0 2831.7 468.3 2832.7 473.3C2833.7 478.2 2836.1 488.3 2837.1 489.1C2838.1 489.8 2840.1 482.3 2840.9 479.6C2841.7 476.9 2843.2 468.1 2844.1 466.9C2844.9 465.8 2846.9 471.6 2847.9 470.1C2848.8 468.6 2850.6 458.1 2851.7 454.3C2852.7 450.5 2855.6 440.7 2856.7 438.4C2857.9 436.2 2860.1 435.4 2861.2 435.3C2862.2 435.1 2864.6 436.4 2865.6 437.2C2866.6 437.9 2868.6 440.7 2869.4 441.6C2870.2 442.5 2871.9 448.6 2872.6 444.8C2873.2 441.0 2873.9 420.6 2874.5 409.9C2875.0 399.3 2876.4 363.9 2877.0 356.1C2877.6 348.4 2878.8 346.7 2879.5 345.4C2880.3 344.0 2882.5 343.8 2883.3 344.7C2884.2 345.6 2885.7 348.2 2886.5 353.0C2887.2 357.7 2888.9 377.0 2889.6 384.6C2890.4 392.2 2892.1 411.5 2892.8 416.3C2893.6 421.1 2894.8 423.4 2896.0 424.5C2897.1 425.6 2900.8 425.6 2902.3 425.8C2903.8 425.9 2907.1 426.0 2908.6 425.8C2910.2 425.5 2913.7 423.1 2915.0 423.9C2916.3 424.6 2918.4 430.0 2919.4 432.1C2920.4 434.2 2922.4 442.0 2923.2 441.6C2924.0 441.2 2925.5 432.1 2926.4 428.9C2927.2 425.7 2929.3 417.1 2930.2 415.0C2931.1 413.0 2933.1 411.5 2934.0 411.8C2934.8 412.1 2936.4 415.9 2937.1 417.5C2937.9 419.2 2939.5 424.4 2940.3 425.8C2941.1 427.1 2943.2 429.5 2944.1 428.9C2945.0 428.4 2947.1 423.2 2947.9 421.3C2948.7 419.4 2950.3 413.7 2951.1 413.1C2951.8 412.5 2953.4 414.4 2954.2 416.3C2955.1 418.2 2957.0 426.3 2958.0 428.9C2959.0 431.6 2961.5 435.4 2962.5 438.4C2963.4 441.5 2964.9 448.6 2965.6 454.3C2966.3 460.0 2967.5 478.7 2968.2 485.9C2968.8 493.1 2969.9 510.0 2970.7 514.4C2971.5 518.8 2974.1 521.5 2975.1 522.6C2976.2 523.8 2978.4 524.0 2979.6 523.9C2980.7 523.8 2983.6 521.3 2984.6 522.0C2985.6 522.8 2987.0 527.7 2987.8 530.2C2988.5 532.8 2990.2 539.9 2991.0 542.9C2991.7 545.9 2993.4 556.0 2994.1 555.6C2994.8 555.2 2996.0 543.9 2996.6 539.7C2997.3 535.6 2998.3 523.8 2999.2 520.7C3000.0 517.7 3002.6 517.1 3003.6 514.4C3004.7 511.8 3006.9 502.8 3008.0 498.6C3009.2 494.4 3012.0 483.0 3013.1 479.6C3014.3 476.2 3016.6 472.4 3017.5 470.1C3018.5 467.8 3020.4 462.1 3021.3 460.6C3022.3 459.1 3024.7 457.4 3025.8 457.4C3026.8 457.4 3029.2 459.5 3030.2 460.6C3031.2 461.7 3033.2 466.9 3034.0 466.9C3034.8 466.9 3036.4 464.0 3037.2 460.6C3037.9 457.2 3039.6 443.9 3040.3 438.4C3041.1 433.0 3042.7 418.2 3043.5 415.0C3044.3 411.8 3045.8 411.7 3046.7 411.8C3047.6 412.0 3050.3 413.5 3051.1 416.3C3051.9 419.1 3052.9 430.1 3053.6 435.3C3054.3 440.4 3056.0 456.7 3056.8 459.3C3057.6 462.0 3059.4 458.0 3060.6 457.4C3061.8 456.8 3065.4 455.0 3066.9 454.3C3068.4 453.5 3071.7 452.0 3073.3 451.1C3074.8 450.2 3078.1 447.8 3079.6 446.7C3081.1 445.5 3084.6 442.6 3085.9 441.6C3087.3 440.6 3090.0 440.7 3091.0 438.4C3092.0 436.2 3093.4 426.6 3094.2 422.6C3094.9 418.6 3096.6 406.8 3097.3 404.9C3098.1 403.0 3099.7 405.8 3100.5 406.8C3101.2 407.8 3102.7 412.1 3103.7 413.1C3104.6 414.1 3107.2 413.9 3108.1 415.0C3109.0 416.2 3110.5 421.3 3111.2 422.6C3112.0 423.9 3113.7 426.5 3114.4 425.8C3115.2 425.0 3116.7 419.3 3117.6 416.3C3118.4 413.2 3120.5 403.5 3121.4 400.4C3122.3 397.4 3124.3 392.5 3125.2 391.0C3126.1 389.4 3128.1 388.4 3129.0 387.8C3129.9 387.2 3131.9 387.4 3132.8 385.9C3133.7 384.4 3135.9 376.6 3136.6 375.1C3137.3 373.7 3137.9 372.7 3138.5 373.9C3139.0 375.0 3140.3 381.6 3141.0 384.6C3141.7 387.7 3143.2 397.3 3144.2 399.2C3145.2 401.1 3148.0 400.4 3149.2 400.4C3150.5 400.4 3153.0 400.0 3154.3 399.2C3155.6 398.4 3159.0 394.5 3160.0 394.0C3161.0 393.5 3162.0 394.3 3162.8 394.8C3163.6 395.3 3165.5 398.7 3166.3 398.3C3167.1 397.9 3168.9 392.8 3169.8 391.2C3170.7 389.6 3172.5 385.8 3173.4 385.3C3174.3 384.8 3176.0 386.0 3176.9 387.0C3177.8 388.0 3180.1 392.0 3181.0 394.0C3181.9 396.0 3183.9 400.5 3184.6 403.9C3185.3 407.3 3186.3 417.3 3186.7 422.0C3187.1 426.7 3187.8 438.4 3188.1 443.0C3188.4 447.6 3189.1 453.2 3189.5 460.0C3189.9 466.8 3191.1 490.4 3191.5 500.0C3191.9 509.6 3192.7 533.2 3193.1 540.0C3193.5 546.8 3194.5 552.5 3195.1 556.9C3195.7 561.3 3197.1 571.8 3197.9 576.5C3198.7 581.2 3201.1 590.5 3202.1 596.2C3203.1 601.9 3205.4 618.2 3206.3 624.3C3207.2 630.4 3208.7 641.6 3209.2 646.7C3209.7 651.8 3210.3 662.2 3210.6 666.4C3210.9 670.6 3211.6 679.8 3212.0 681.9C3212.4 684.0 3213.2 684.1 3213.9 683.8C3214.6 683.5 3216.7 680.4 3217.6 679.0C3218.5 677.6 3220.9 673.3 3221.8 672.0C3222.7 670.7 3224.8 668.8 3225.2 668.4" stroke="#1279f3" stroke-width="2" fill="none" stroke-linejoin="round" stroke-linecap="round"/><path d="M3226 667.8L3305.5 663.8" stroke="#1279f3" stroke-width="2" stroke-dasharray="5.5 5" fill="none"/><rect x="3311" y="640" width="58.2" height="47.8" rx="6" fill="#0a7bff"/><rect x="3155.2" y="262.5" width="97" height="443" stroke="#ff2a0a" stroke-width="5.8" fill="none"/></svg>
<span class="t" style="left:1021.94px;top:190.05px;font-size:22.5px;line-height:22.5px;color:#030b1f;transform:scaleX(0.9773);-webkit-text-stroke:0.6px #030b1f;">0.036</span>
<span class="t" style="left:1021.94px;top:275.55px;font-size:22.5px;line-height:22.5px;color:#030b1f;transform:scaleX(0.9765);-webkit-text-stroke:0.6px #030b1f;">0.035</span>
<span class="t" style="left:1021.95px;top:361.05px;font-size:22.5px;line-height:22.5px;color:#030b1f;transform:scaleX(0.9714);-webkit-text-stroke:0.6px #030b1f;">0.034</span>
<span class="t" style="left:1021.94px;top:446.55px;font-size:22.5px;line-height:22.5px;color:#030b1f;transform:scaleX(0.9773);-webkit-text-stroke:0.6px #030b1f;">0.033</span>
<span class="t" style="left:1021.94px;top:532.05px;font-size:22.5px;line-height:22.5px;color:#030b1f;transform:scaleX(0.9798);-webkit-text-stroke:0.6px #030b1f;">0.032</span>
<span class="t" style="left:1017.61px;top:610.85px;font-size:22.5px;line-height:22.5px;color:#fff;transform:scaleX(1.0140);-webkit-text-stroke:0.6px #fff;">0.03109</span>
<span class="t" style="left:105.43px;top:708.95px;font-size:22.5px;line-height:22.5px;color:#030b1f;-webkit-text-stroke:0.6px #030b1f;">12:00</span><span class="t" style="left:168.44px;top:708.95px;font-size:22.5px;line-height:22.5px;color:#030b1f;transform:scaleX(1.0346);-webkit-text-stroke:0.6px #030b1f;">PM</span>
<span class="t" style="left:377.53px;top:708.95px;font-size:22.5px;line-height:22.5px;color:#030b1f;-webkit-text-stroke:0.6px #030b1f;">12:00</span><span class="t" style="left:440.54px;top:708.95px;font-size:22.5px;line-height:22.5px;color:#030b1f;transform:scaleX(1.0346);-webkit-text-stroke:0.6px #030b1f;">PM</span>
<span class="t" style="left:648.23px;top:708.95px;font-size:22.5px;line-height:22.5px;color:#030b1f;-webkit-text-stroke:0.6px #030b1f;">12:00</span><span class="t" style="left:711.24px;top:708.95px;font-size:22.5px;line-height:22.5px;color:#030b1f;transform:scaleX(1.0346);-webkit-text-stroke:0.6px #030b1f;">PM</span>
<span class="t" style="left:919.43px;top:708.95px;font-size:22.5px;line-height:22.5px;color:#030b1f;-webkit-text-stroke:0.6px #030b1f;">12:00</span><span class="t" style="left:982.44px;top:708.95px;font-size:22.5px;line-height:22.5px;color:#030b1f;transform:scaleX(1.0346);-webkit-text-stroke:0.6px #030b1f;">PM</span>
<svg class="ab" style="left:1069.2px;top:693.2px" width="32" height="32" viewBox="-16 -16 32 32"><circle r="15" fill="#030b1f"/><circle cx="0" cy="-5.4" r="1.7" fill="#fff"/><rect x="-1.35" y="-2.4" width="2.7" height="9" rx="1.2" fill="#fff"/></svg>
<span class="t" style="left:2213.03px;top:221.65px;font-size:22.5px;line-height:22.5px;color:#030b1f;transform:scaleX(1.0341);-webkit-text-stroke:0.6px #030b1f;">2</span>
<span class="t" style="left:2213.33px;top:360.45px;font-size:22.5px;line-height:22.5px;color:#030b1f;transform:scaleX(0.9855);-webkit-text-stroke:0.6px #030b1f;">0</span>
<span class="t" style="left:2213.15px;top:499.25px;font-size:22.5px;line-height:22.5px;color:#030b1f;transform:scaleX(1.0462);-webkit-text-stroke:0.6px #030b1f;">-2</span>
<span class="t" style="left:2213.18px;top:638.05px;font-size:22.5px;line-height:22.5px;color:#030b1f;transform:scaleX(1.0192);-webkit-text-stroke:0.6px #030b1f;">-4</span>
<span class="t" style="left:2197.73px;top:463.85px;font-size:22.5px;line-height:22.5px;color:#fff;transform:scaleX(0.9700);-webkit-text-stroke:0.6px #fff;">-1.4</span>
<span class="t" style="left:1226.63px;top:708.95px;font-size:22.5px;line-height:22.5px;color:#030b1f;-webkit-text-stroke:0.6px #030b1f;">12:00</span><span class="t" style="left:1289.64px;top:708.95px;font-size:22.5px;line-height:22.5px;color:#030b1f;transform:scaleX(1.0346);-webkit-text-stroke:0.6px #030b1f;">PM</span>
<span class="t" style="left:1390.28px;top:708.95px;font-size:22.5px;line-height:22.5px;color:#030b1f;transform:scaleX(0.9863);-webkit-text-stroke:0.6px #030b1f;">20</span><span class="t" style="left:1422.37px;top:708.95px;font-size:22.5px;line-height:22.5px;color:#030b1f;transform:scaleX(1.0066);-webkit-text-stroke:0.6px #030b1f;">Sat</span>
<span class="t" style="left:1522.63px;top:708.95px;font-size:22.5px;line-height:22.5px;color:#030b1f;-webkit-text-stroke:0.6px #030b1f;">12:00</span><span class="t" style="left:1585.64px;top:708.95px;font-size:22.5px;line-height:22.5px;color:#030b1f;transform:scaleX(1.0346);-webkit-text-stroke:0.6px #030b1f;">PM</span>
<span class="t" style="left:1653.25px;top:708.95px;font-size:22.5px;line-height:22.5px;color:#030b1f;transform:scaleX(1.0566);-webkit-text-stroke:0.6px #030b1f;">Dec</span><span class="t" style="left:1702.28px;top:708.95px;font-size:22.5px;line-height:22.5px;color:#030b1f;transform:scaleX(0.8993);-webkit-text-stroke:0.6px #030b1f;">21</span><span class="t" style="left:1730.60px;top:708.95px;font-size:22.5px;line-height:22.5px;color:#030b1f;transform:scaleX(1.0630);-webkit-text-stroke:0.6px #030b1f;">2025</span>
<span class="t" style="left:1818.33px;top:708.95px;font-size:22.5px;line-height:22.5px;color:#030b1f;-webkit-text-stroke:0.6px #030b1f;">12:00</span><span class="t" style="left:1881.34px;top:708.95px;font-size:22.5px;line-height:22.5px;color:#030b1f;transform:scaleX(1.0346);-webkit-text-stroke:0.6px #030b1f;">PM</span>
<span class="t" style="left:1976.28px;top:708.95px;font-size:22.5px;line-height:22.5px;color:#030b1f;transform:scaleX(0.9928);-webkit-text-stroke:0.6px #030b1f;">22</span><span class="t" style="left:2006.36px;top:708.95px;font-size:22.5px;line-height:22.5px;color:#030b1f;transform:scaleX(1.1072);-webkit-text-stroke:0.6px #030b1f;">Mon</span>
<span class="t" style="left:2114.43px;top:708.95px;font-size:22.5px;line-height:22.5px;color:#030b1f;-webkit-text-stroke:0.6px #030b1f;">12:00</span><span class="t" style="left:2177.44px;top:708.95px;font-size:22.5px;line-height:22.5px;color:#030b1f;transform:scaleX(1.0346);-webkit-text-stroke:0.6px #030b1f;">PM</span>
<svg class="ab" style="left:2196.7px;top:693.2px" width="31.2" height="31.2" viewBox="-15.6 -15.6 31.2 31.2"><circle r="14.6" fill="#030b1f"/><circle cx="0" cy="-5.4" r="1.7" fill="#fff"/><rect x="-1.35" y="-2.4" width="2.7" height="9" rx="1.2" fill="#fff"/></svg>
<span class="t" style="left:3266.74px;top:194.45px;font-size:22.5px;line-height:22.5px;color:#030b1f;transform:scaleX(0.9772);-webkit-text-stroke:0.6px #030b1f;">0.2</span>
<span class="t" style="left:3284.52px;top:269.05px;font-size:22.5px;line-height:22.5px;color:#030b1f;transform:scaleX(1.0041);-webkit-text-stroke:0.6px #030b1f;">0</span>
<span class="t" style="left:3258.60px;top:343.65px;font-size:22.5px;line-height:22.5px;color:#030b1f;-webkit-text-stroke:0.6px #030b1f;">-0.2</span>
<span class="t" style="left:3258.61px;top:418.25px;font-size:22.5px;line-height:22.5px;color:#030b1f;transform:scaleX(0.9862);-webkit-text-stroke:0.6px #030b1f;">-0.4</span>
<span class="t" style="left:3258.61px;top:492.85px;font-size:22.5px;line-height:22.5px;color:#030b1f;transform:scaleX(0.9950);-webkit-text-stroke:0.6px #030b1f;">-0.6</span>
<span class="t" style="left:3258.19px;top:567.45px;font-size:22.5px;line-height:22.5px;color:#030b1f;transform:scaleX(1.0056);-webkit-text-stroke:0.6px #030b1f;">-0.8</span>
<span class="t" style="left:3279.62px;top:642.05px;font-size:22.5px;line-height:22.5px;color:#030b1f;transform:scaleX(0.8767);-webkit-text-stroke:0.6px #030b1f;">-1</span>
<span class="t" style="left:3336.83px;top:194.45px;font-size:22.5px;line-height:22.5px;color:#030b1f;transform:scaleX(0.9655);-webkit-text-stroke:0.6px #030b1f;">52</span>
<span class="t" style="left:3336.84px;top:269.05px;font-size:22.5px;line-height:22.5px;color:#030b1f;transform:scaleX(0.9550);-webkit-text-stroke:0.6px #030b1f;">50</span>
<span class="t" style="left:3337.21px;top:343.65px;font-size:22.5px;line-height:22.5px;color:#030b1f;transform:scaleX(0.9434);-webkit-text-stroke:0.6px #030b1f;">48</span>
<span class="t" style="left:3337.21px;top:418.25px;font-size:22.5px;line-height:22.5px;color:#030b1f;transform:scaleX(0.9438);-webkit-text-stroke:0.6px #030b1f;">46</span>
<span class="t" style="left:3337.22px;top:492.85px;font-size:22.5px;line-height:22.5px;color:#030b1f;transform:scaleX(0.9308);-webkit-text-stroke:0.6px #030b1f;">44</span>
<span class="t" style="left:3337.21px;top:567.45px;font-size:22.5px;line-height:22.5px;color:#030b1f;transform:scaleX(0.9496);-webkit-text-stroke:0.6px #030b1f;">42</span>
<span class="t" style="left:3318.11px;top:652.65px;font-size:22.5px;line-height:22.5px;color:#fff;transform:scaleX(1.0360);-webkit-text-stroke:0.6px #fff;">39.5</span>
<span class="t" style="left:2344.03px;top:708.95px;font-size:22.5px;line-height:22.5px;color:#030b1f;-webkit-text-stroke:0.6px #030b1f;">12:00</span><span class="t" style="left:2407.04px;top:708.95px;font-size:22.5px;line-height:22.5px;color:#030b1f;transform:scaleX(1.0346);-webkit-text-stroke:0.6px #030b1f;">PM</span>
<span class="t" style="left:2498.58px;top:708.95px;font-size:22.5px;line-height:22.5px;color:#030b1f;transform:scaleX(0.9863);-webkit-text-stroke:0.6px #030b1f;">20</span><span class="t" style="left:2530.67px;top:708.95px;font-size:22.5px;line-height:22.5px;color:#030b1f;transform:scaleX(1.0066);-webkit-text-stroke:0.6px #030b1f;">Sat</span>
<span class="t" style="left:2622.43px;top:708.95px;font-size:22.5px;line-height:22.5px;color:#030b1f;-webkit-text-stroke:0.6px #030b1f;">12:00</span><span class="t" style="left:2685.44px;top:708.95px;font-size:22.5px;line-height:22.5px;color:#030b1f;transform:scaleX(1.0346);-webkit-text-stroke:0.6px #030b1f;">PM</span>
<span class="t" style="left:2743.85px;top:708.95px;font-size:22.5px;line-height:22.5px;color:#030b1f;transform:scaleX(1.0566);-webkit-text-stroke:0.6px #030b1f;">Dec</span><span class="t" style="left:2792.88px;top:708.95px;font-size:22.5px;line-height:22.5px;color:#030b1f;transform:scaleX(0.8993);-webkit-text-stroke:0.6px #030b1f;">21</span><span class="t" style="left:2821.20px;top:708.95px;font-size:22.5px;line-height:22.5px;color:#030b1f;transform:scaleX(1.0630);-webkit-text-stroke:0.6px #030b1f;">2025</span>
<span class="t" style="left:2900.33px;top:708.95px;font-size:22.5px;line-height:22.5px;color:#030b1f;-webkit-text-stroke:0.6px #030b1f;">12:00</span><span class="t" style="left:2963.34px;top:708.95px;font-size:22.5px;line-height:22.5px;color:#030b1f;transform:scaleX(1.0346);-webkit-text-stroke:0.6px #030b1f;">PM</span>
<span class="t" style="left:3049.28px;top:708.95px;font-size:22.5px;line-height:22.5px;color:#030b1f;transform:scaleX(0.9928);-webkit-text-stroke:0.6px #030b1f;">22</span><span class="t" style="left:3079.36px;top:708.95px;font-size:22.5px;line-height:22.5px;color:#030b1f;transform:scaleX(1.1072);-webkit-text-stroke:0.6px #030b1f;">Mon</span>
<span class="t" style="left:3178.43px;top:708.95px;font-size:22.5px;line-height:22.5px;color:#030b1f;-webkit-text-stroke:0.6px #030b1f;">12:00</span><span class="t" style="left:3241.44px;top:708.95px;font-size:22.5px;line-height:22.5px;color:#030b1f;transform:scaleX(1.0346);-webkit-text-stroke:0.6px #030b1f;">PM</span>
<svg class="ab" style="left:3322.0px;top:692.8px" width="32" height="32" viewBox="-16 -16 32 32"><circle r="15" fill="#030b1f"/><circle cx="0" cy="-5.4" r="1.7" fill="#fff"/><rect x="-1.35" y="-2.4" width="2.7" height="9" rx="1.2" fill="#fff"/></svg>
</div></body></html>
